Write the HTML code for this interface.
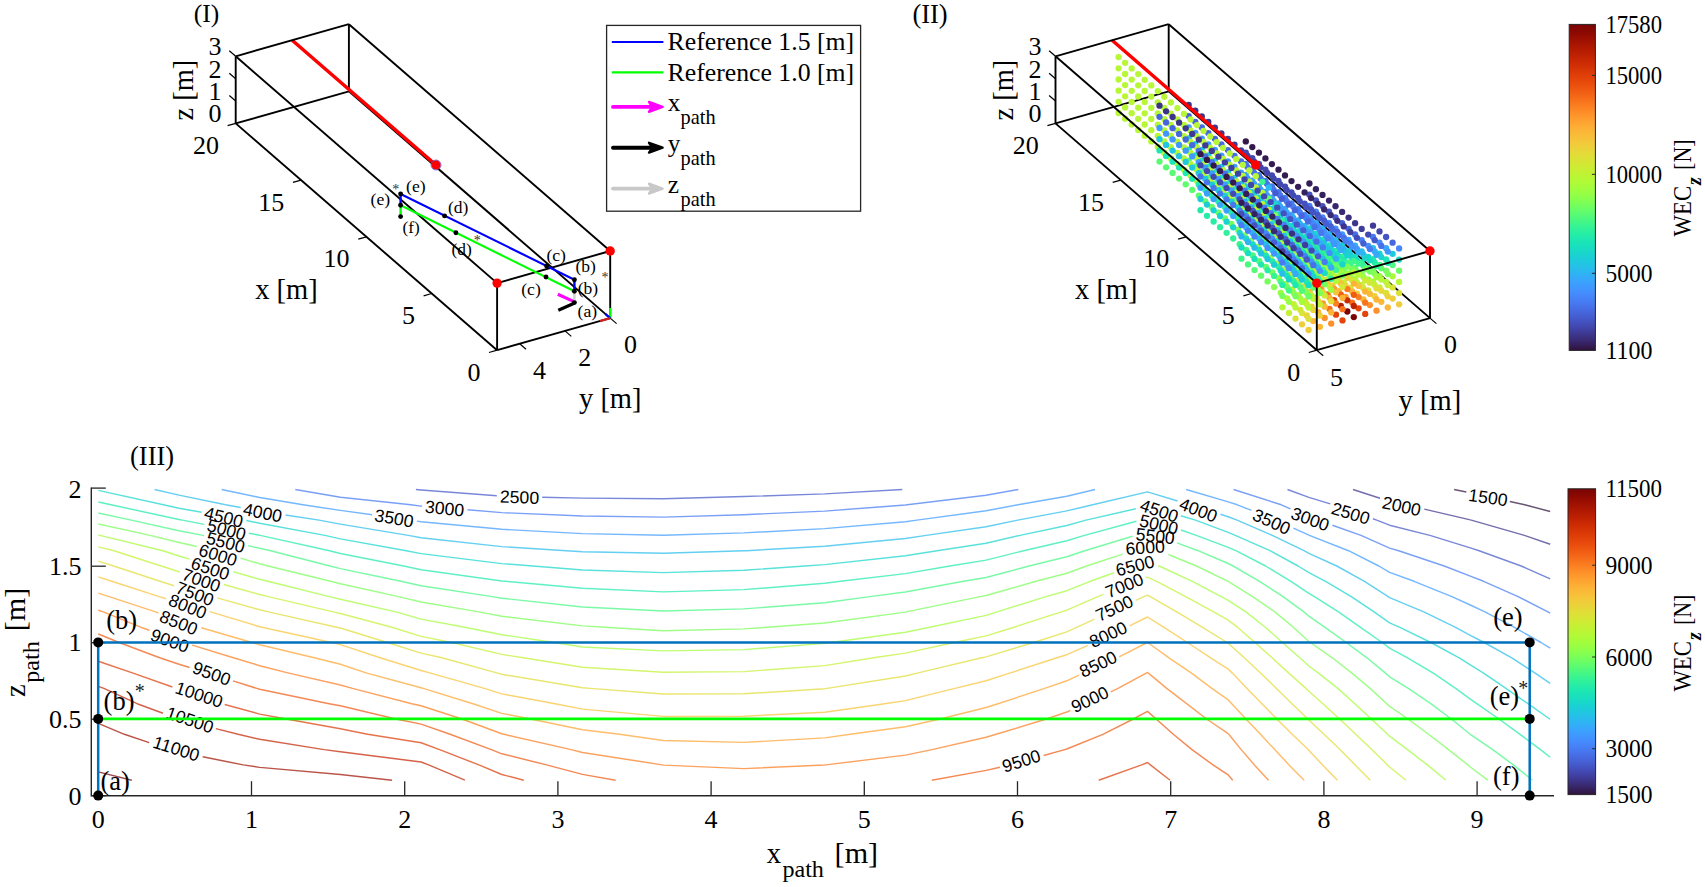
<!DOCTYPE html>
<html lang="en"><head><meta charset="utf-8"><title>Figure</title><style>html,body{margin:0;padding:0;background:#fff}svg{display:block}</style></head><body>
<svg width="1705" height="887" viewBox="0 0 1705 887">
<style>text{font-family:"Liberation Serif","Times New Roman",serif}text.a{font-family:"Liberation Sans",Arial,sans-serif}</style>
<rect width="1705" height="887" fill="#fff"/>
<g id="p1">
<line x1="348.9" y1="91.3" x2="610.2" y2="318.1" stroke="#000" stroke-width="1.9"/>
<line x1="348.9" y1="91.3" x2="235.7" y2="123.4" stroke="#000" stroke-width="1.9"/>
<line x1="348.9" y1="91.3" x2="348.9" y2="24.2" stroke="#000" stroke-width="1.9"/>
<line x1="292.2" y1="40.2" x2="436.0" y2="165.0" stroke="#ff0000" stroke-width="3.5"/>
<line x1="497.1" y1="283.1" x2="235.7" y2="56.3" stroke="#000" stroke-width="1.9"/>
<line x1="497.1" y1="283.1" x2="610.2" y2="251.0" stroke="#000" stroke-width="1.9"/>
<line x1="497.1" y1="283.1" x2="497.1" y2="350.2" stroke="#000" stroke-width="1.9"/>
<line x1="235.7" y1="56.3" x2="348.9" y2="24.2" stroke="#000" stroke-width="1.9"/>
<line x1="348.9" y1="24.2" x2="610.2" y2="251.0" stroke="#000" stroke-width="1.9"/>
<line x1="235.7" y1="56.3" x2="235.7" y2="123.4" stroke="#000" stroke-width="1.9"/>
<line x1="235.7" y1="123.4" x2="497.1" y2="350.2" stroke="#000" stroke-width="1.9"/>
<line x1="497.1" y1="350.2" x2="610.2" y2="318.1" stroke="#000" stroke-width="1.9"/>
<line x1="610.2" y1="318.1" x2="610.2" y2="251.0" stroke="#000" stroke-width="1.9"/>
<line x1="497.1" y1="350.2" x2="489.0" y2="352.5" stroke="#000" stroke-width="1.2"/>
<line x1="431.7" y1="293.5" x2="423.6" y2="295.8" stroke="#000" stroke-width="1.2"/>
<line x1="366.4" y1="236.8" x2="358.3" y2="239.1" stroke="#000" stroke-width="1.2"/>
<line x1="301.0" y1="180.1" x2="292.9" y2="182.4" stroke="#000" stroke-width="1.2"/>
<line x1="235.7" y1="123.4" x2="227.6" y2="125.7" stroke="#000" stroke-width="1.2"/>
<line x1="610.2" y1="318.1" x2="616.6" y2="323.6" stroke="#000" stroke-width="1.2"/>
<line x1="565.0" y1="330.9" x2="571.3" y2="336.4" stroke="#000" stroke-width="1.2"/>
<line x1="519.7" y1="343.8" x2="526.0" y2="349.3" stroke="#000" stroke-width="1.2"/>
<line x1="235.7" y1="101.0" x2="229.3" y2="95.5" stroke="#000" stroke-width="1.2"/>
<line x1="235.7" y1="78.7" x2="229.3" y2="73.2" stroke="#000" stroke-width="1.2"/>
<line x1="235.7" y1="56.3" x2="229.3" y2="50.8" stroke="#000" stroke-width="1.2"/>
<circle cx="436.0" cy="165.0" r="4.7" fill="#ff0000"/>
<circle cx="497.1" cy="283.1" r="4.7" fill="#ff0000"/>
<circle cx="610.2" cy="251.0" r="4.7" fill="#ff0000"/>
<circle cx="436.0" cy="165.0" r="5" fill="none" stroke="#5a3fd0" stroke-width="0.7"/>
<line x1="400.6" y1="194.0" x2="574.4" y2="279.7" stroke="#0000ff" stroke-width="2.1"/>
<line x1="574.4" y1="279.7" x2="574.4" y2="291.2" stroke="#0000ff" stroke-width="2.4"/>
<line x1="400.6" y1="194.0" x2="400.6" y2="205.3" stroke="#0000ff" stroke-width="2.4"/>
<line x1="400.6" y1="205.3" x2="574.4" y2="291.2" stroke="#00ff00" stroke-width="2.1"/>
<line x1="400.6" y1="205.3" x2="400.6" y2="216.6" stroke="#00ff00" stroke-width="2.4"/>
<line x1="574.4" y1="291.2" x2="574.4" y2="302.6" stroke="#cfcfcf" stroke-width="2.4"/>
<line x1="557.8" y1="294.3" x2="573.4" y2="301.4" stroke="#ff00ff" stroke-width="3.2"/>
<line x1="558.3" y1="310.3" x2="574.2" y2="303.2" stroke="#000" stroke-width="3.2"/>
<line x1="610.2" y1="318.1" x2="610.2" y2="307.9" stroke="#00ff00" stroke-width="2.2"/>
<line x1="610.2" y1="318.1" x2="605.2" y2="313.9" stroke="#0000ff" stroke-width="2.2"/>
<line x1="610.2" y1="318.1" x2="600.0" y2="321.1" stroke="#d02020" stroke-width="2.2"/>
<circle cx="400.6" cy="194.0" r="2.45" fill="#000"/>
<circle cx="400.6" cy="205.3" r="2.45" fill="#000"/>
<circle cx="400.6" cy="216.6" r="2.45" fill="#000"/>
<circle cx="444.6" cy="215.9" r="2.45" fill="#000"/>
<circle cx="455.9" cy="232.7" r="2.45" fill="#000"/>
<circle cx="546.6" cy="266.0" r="2.45" fill="#000"/>
<circle cx="546.0" cy="277.0" r="2.45" fill="#000"/>
<circle cx="574.4" cy="279.7" r="2.45" fill="#000"/>
<circle cx="574.4" cy="291.2" r="2.45" fill="#000"/>
<circle cx="574.4" cy="302.6" r="2.45" fill="#000"/>
<text x="406.0" y="192.4" font-size="17.5" textLength="19.6" lengthAdjust="spacingAndGlyphs">(e)</text>
<text x="370.6" y="205.4" font-size="17.5" textLength="19.6" lengthAdjust="spacingAndGlyphs">(e)</text>
<text x="448.0" y="213.4" font-size="17.5" textLength="20.4" lengthAdjust="spacingAndGlyphs">(d)</text>
<text x="402.6" y="232.6" font-size="17.5" textLength="17.2" lengthAdjust="spacingAndGlyphs">(f)</text>
<text x="451.4" y="255.2" font-size="17.5" textLength="20.4" lengthAdjust="spacingAndGlyphs">(d)</text>
<text x="546.4" y="260.8" font-size="17.5" textLength="19.6" lengthAdjust="spacingAndGlyphs">(c)</text>
<text x="521.2" y="294.6" font-size="17.5" textLength="19.6" lengthAdjust="spacingAndGlyphs">(c)</text>
<text x="575.4" y="272.2" font-size="17.5" textLength="20.4" lengthAdjust="spacingAndGlyphs">(b)</text>
<text x="577.8" y="293.6" font-size="17.5" textLength="20.4" lengthAdjust="spacingAndGlyphs">(b)</text>
<text x="577.6" y="317.2" font-size="17.5" textLength="19.6" lengthAdjust="spacingAndGlyphs">(a)</text>
<text x="395.7" y="194.4" font-size="14.0" text-anchor="middle" fill="#333">*</text>
<text x="477.3" y="245.4" font-size="14.0" text-anchor="middle" fill="#333">*</text>
<text x="604.9" y="282.4" font-size="14.0" text-anchor="middle" fill="#333">*</text>
<text x="414.9" y="324.0" font-size="26.0" text-anchor="end">5</text>
<text x="349.6" y="267.3" font-size="26.0" text-anchor="end">10</text>
<text x="284.2" y="210.6" font-size="26.0" text-anchor="end">15</text>
<text x="218.9" y="153.9" font-size="26.0" text-anchor="end">20</text>
<text x="480.4" y="381.2" font-size="26.0" text-anchor="end">0</text>
<text x="630.6" y="352.5" font-size="26.0" text-anchor="middle">0</text>
<text x="584.8" y="366.3" font-size="26.0" text-anchor="middle">2</text>
<text x="539.5" y="379.2" font-size="26.0" text-anchor="middle">4</text>
<text x="215.1" y="122.4" font-size="26.0" text-anchor="middle">0</text>
<text x="215.1" y="100.0" font-size="26.0" text-anchor="middle">1</text>
<text x="215.1" y="77.7" font-size="26.0" text-anchor="middle">2</text>
<text x="215.1" y="55.3" font-size="26.0" text-anchor="middle">3</text>
<text x="255.2" y="299.3" font-size="28.5">x [m]</text>
<text x="197.9" y="0.0" font-size="1.0"></text>
<text x="579.0" y="407.9" font-size="28.5">y [m]</text>
<text x="193.4" y="120.6" font-size="28.5" transform="rotate(-90.0 193.4 120.6)">z [m]</text>
<text x="193.8" y="22.4" font-size="25.5" textLength="25.5" lengthAdjust="spacingAndGlyphs">(I)</text>
</g>
<g id="leg">
<rect x="606.6" y="25.4" width="254" height="185.8" fill="#fff" stroke="#262626" stroke-width="1.3"/>
<line x1="611.8" y1="42.0" x2="663.4" y2="42.0" stroke="#0000ff" stroke-width="2.2"/>
<line x1="611.8" y1="72.3" x2="663.4" y2="72.3" stroke="#00ff00" stroke-width="2.2"/>
<line x1="613" y1="106.9" x2="654" y2="106.9" stroke="#ff00ff" stroke-width="3.9" stroke-linecap="round"/>
<polygon points="662.6,106.9 649.0,102.0 652.5,106.9 649.0,111.8" fill="#ff00ff" stroke="#ff00ff" stroke-width="2.4" stroke-linejoin="round"/>
<line x1="613" y1="147.7" x2="654" y2="147.7" stroke="#000" stroke-width="3.9" stroke-linecap="round"/>
<polygon points="662.6,147.7 649.0,142.8 652.5,147.7 649.0,152.6" fill="#000" stroke="#000" stroke-width="2.4" stroke-linejoin="round"/>
<line x1="613" y1="188.6" x2="654" y2="188.6" stroke="#c8c8c8" stroke-width="3.9" stroke-linecap="round"/>
<polygon points="662.6,188.6 649.0,183.7 652.5,188.6 649.0,193.5" fill="#c8c8c8" stroke="#c8c8c8" stroke-width="2.4" stroke-linejoin="round"/>
<text x="667.6" y="50.3" font-size="25.4" textLength="186.5" lengthAdjust="spacingAndGlyphs">Reference 1.5 [m]</text>
<text x="667.6" y="80.6" font-size="25.4" textLength="186.5" lengthAdjust="spacingAndGlyphs">Reference 1.0 [m]</text>
<text x="667.8" y="110.7" font-size="25.4">x</text>
<text x="680.6" y="123.7" font-size="20.3" textLength="35.0" lengthAdjust="spacingAndGlyphs">path</text>
<text x="667.8" y="152.2" font-size="25.4">y</text>
<text x="680.6" y="165.2" font-size="20.3" textLength="35.0" lengthAdjust="spacingAndGlyphs">path</text>
<text x="667.8" y="193.0" font-size="25.4">z</text>
<text x="680.6" y="206.0" font-size="20.3" textLength="35.0" lengthAdjust="spacingAndGlyphs">path</text>
</g>
<g id="p2">
<line x1="1168.7" y1="91.3" x2="1430.0" y2="318.1" stroke="#000" stroke-width="1.9"/>
<line x1="1168.7" y1="91.3" x2="1055.5" y2="123.4" stroke="#000" stroke-width="1.9"/>
<line x1="1168.7" y1="91.3" x2="1168.7" y2="24.2" stroke="#000" stroke-width="1.9"/>
<g>
<circle cx="1118.6" cy="113.0" r="3.15" fill="#b7f735"/>
<circle cx="1118.6" cy="101.8" r="3.15" fill="#b7f735"/>
<circle cx="1125.1" cy="118.7" r="3.15" fill="#b7f735"/>
<circle cx="1118.6" cy="90.7" r="3.15" fill="#b7f735"/>
<circle cx="1125.1" cy="107.5" r="3.15" fill="#b7f735"/>
<circle cx="1131.7" cy="124.4" r="3.15" fill="#b7f735"/>
<circle cx="1118.6" cy="79.5" r="3.15" fill="#b7f735"/>
<circle cx="1125.1" cy="96.3" r="3.15" fill="#b7f735"/>
<circle cx="1131.7" cy="113.2" r="3.15" fill="#b7f735"/>
<circle cx="1118.6" cy="68.3" r="3.15" fill="#b7f735"/>
<circle cx="1138.2" cy="130.0" r="3.15" fill="#b7f735"/>
<circle cx="1125.1" cy="85.1" r="3.15" fill="#b7f735"/>
<circle cx="1131.7" cy="102.0" r="3.15" fill="#b7f735"/>
<circle cx="1118.6" cy="57.1" r="3.15" fill="#b7f735"/>
<circle cx="1138.2" cy="118.8" r="3.15" fill="#b7f735"/>
<circle cx="1125.1" cy="74.0" r="3.15" fill="#b7f735"/>
<circle cx="1144.7" cy="135.7" r="3.15" fill="#b7f735"/>
<circle cx="1131.7" cy="90.8" r="3.15" fill="#b7f735"/>
<circle cx="1138.2" cy="107.7" r="3.15" fill="#b7f735"/>
<circle cx="1125.1" cy="62.8" r="3.15" fill="#b7f735"/>
<circle cx="1144.7" cy="124.5" r="3.15" fill="#b7f735"/>
<circle cx="1131.7" cy="79.6" r="3.15" fill="#b7f735"/>
<circle cx="1151.3" cy="141.4" r="3.15" fill="#b7f735"/>
<circle cx="1138.2" cy="96.5" r="3.15" fill="#b7f735"/>
<circle cx="1144.7" cy="113.3" r="3.15" fill="#b7f735"/>
<circle cx="1131.7" cy="68.4" r="3.15" fill="#b7f735"/>
<circle cx="1151.3" cy="130.2" r="3.15" fill="#b7f735"/>
<circle cx="1138.2" cy="85.3" r="3.15" fill="#b7f735"/>
<circle cx="1157.8" cy="147.0" r="3.15" fill="#b7f735"/>
<circle cx="1144.7" cy="102.1" r="3.15" fill="#b7f735"/>
<circle cx="1151.3" cy="119.0" r="3.15" fill="#b7f735"/>
<circle cx="1138.2" cy="74.1" r="3.15" fill="#b7f735"/>
<circle cx="1157.8" cy="135.9" r="3.15" fill="#b7f735"/>
<circle cx="1144.7" cy="91.0" r="3.15" fill="#b7f735"/>
<circle cx="1164.3" cy="152.7" r="3.15" fill="#b7f735"/>
<circle cx="1151.3" cy="107.8" r="3.15" fill="#b7f735"/>
<circle cx="1157.8" cy="124.7" r="3.15" fill="#b7f735"/>
<circle cx="1144.7" cy="79.8" r="3.15" fill="#b7f735"/>
<circle cx="1164.3" cy="141.5" r="3.15" fill="#b7f735"/>
<circle cx="1151.3" cy="96.6" r="3.15" fill="#b7f735"/>
<circle cx="1170.9" cy="158.4" r="3.15" fill="#b7f735"/>
<circle cx="1157.8" cy="113.5" r="3.15" fill="#b7f735"/>
<circle cx="1164.3" cy="130.3" r="3.15" fill="#b7f735"/>
<circle cx="1151.3" cy="85.4" r="3.15" fill="#b7f735"/>
<circle cx="1188.7" cy="160.8" r="3.15" fill="#59fb73"/>
<circle cx="1159.5" cy="161.6" r="3.15" fill="#59fb73"/>
<circle cx="1170.9" cy="147.2" r="3.15" fill="#b7f735"/>
<circle cx="1157.8" cy="102.3" r="3.15" fill="#b7f735"/>
<circle cx="1177.4" cy="164.1" r="3.15" fill="#b7f735"/>
<circle cx="1164.3" cy="119.2" r="3.15" fill="#b7f735"/>
<circle cx="1188.7" cy="149.7" r="3.15" fill="#1de7b2"/>
<circle cx="1159.5" cy="150.4" r="3.15" fill="#1de7b2"/>
<circle cx="1170.9" cy="136.0" r="3.15" fill="#b7f735"/>
<circle cx="1157.8" cy="91.1" r="3.15" fill="#b7f735"/>
<circle cx="1195.3" cy="166.5" r="3.15" fill="#59fb73"/>
<circle cx="1166.1" cy="167.3" r="3.15" fill="#59fb73"/>
<circle cx="1177.4" cy="152.9" r="3.15" fill="#b7f735"/>
<circle cx="1164.3" cy="108.0" r="3.15" fill="#b7f735"/>
<circle cx="1188.7" cy="138.5" r="3.15" fill="#22c5e2"/>
<circle cx="1159.5" cy="139.2" r="3.15" fill="#22c5e2"/>
<circle cx="1183.9" cy="169.7" r="3.15" fill="#b7f735"/>
<circle cx="1170.9" cy="124.8" r="3.15" fill="#b7f735"/>
<circle cx="1195.3" cy="155.3" r="3.15" fill="#1de7b2"/>
<circle cx="1166.1" cy="156.1" r="3.15" fill="#1de7b2"/>
<circle cx="1177.4" cy="141.7" r="3.15" fill="#b7f735"/>
<circle cx="1164.3" cy="96.8" r="3.15" fill="#b7f735"/>
<circle cx="1201.8" cy="172.2" r="3.15" fill="#5dfc6f"/>
<circle cx="1188.7" cy="127.3" r="3.15" fill="#4196ff"/>
<circle cx="1172.6" cy="172.9" r="3.15" fill="#59fb73"/>
<circle cx="1159.5" cy="128.0" r="3.15" fill="#4196ff"/>
<circle cx="1183.9" cy="158.5" r="3.15" fill="#b7f735"/>
<circle cx="1170.9" cy="113.6" r="3.15" fill="#b7f735"/>
<circle cx="1195.3" cy="144.1" r="3.15" fill="#22c5e2"/>
<circle cx="1166.1" cy="144.9" r="3.15" fill="#22c5e2"/>
<circle cx="1190.5" cy="175.4" r="3.15" fill="#b7f735"/>
<circle cx="1177.4" cy="130.5" r="3.15" fill="#b7f735"/>
<circle cx="1201.8" cy="161.0" r="3.15" fill="#1fe9af"/>
<circle cx="1188.7" cy="116.1" r="3.15" fill="#4666dd"/>
<circle cx="1172.6" cy="161.7" r="3.15" fill="#1de7b2"/>
<circle cx="1159.5" cy="116.8" r="3.15" fill="#4666dd"/>
<circle cx="1183.9" cy="147.4" r="3.15" fill="#b7f735"/>
<circle cx="1170.9" cy="102.5" r="3.15" fill="#b7f735"/>
<circle cx="1208.3" cy="177.9" r="3.15" fill="#5dfc6f"/>
<circle cx="1195.3" cy="133.0" r="3.15" fill="#4196ff"/>
<circle cx="1179.1" cy="178.6" r="3.15" fill="#5dfc6f"/>
<circle cx="1166.1" cy="133.7" r="3.15" fill="#4196ff"/>
<circle cx="1190.5" cy="164.2" r="3.15" fill="#b7f735"/>
<circle cx="1177.4" cy="119.3" r="3.15" fill="#b7f735"/>
<circle cx="1201.8" cy="149.8" r="3.15" fill="#22c5e2"/>
<circle cx="1188.7" cy="104.9" r="3.15" fill="#3c3286"/>
<circle cx="1172.6" cy="150.6" r="3.15" fill="#22c5e2"/>
<circle cx="1159.5" cy="105.7" r="3.15" fill="#3c3286"/>
<circle cx="1197.0" cy="181.1" r="3.15" fill="#b7f735"/>
<circle cx="1183.9" cy="136.2" r="3.15" fill="#b7f735"/>
<circle cx="1208.3" cy="166.7" r="3.15" fill="#1fe9af"/>
<circle cx="1195.3" cy="121.8" r="3.15" fill="#4666dd"/>
<circle cx="1179.1" cy="167.4" r="3.15" fill="#1fe9af"/>
<circle cx="1166.1" cy="122.5" r="3.15" fill="#4666dd"/>
<circle cx="1190.5" cy="153.0" r="3.15" fill="#b7f735"/>
<circle cx="1177.4" cy="108.1" r="3.15" fill="#b7f735"/>
<circle cx="1214.9" cy="183.5" r="3.15" fill="#61fc6c"/>
<circle cx="1201.8" cy="138.6" r="3.15" fill="#4196ff"/>
<circle cx="1185.7" cy="184.3" r="3.15" fill="#5dfc6f"/>
<circle cx="1172.6" cy="139.4" r="3.15" fill="#4196ff"/>
<circle cx="1197.0" cy="169.9" r="3.15" fill="#b7f735"/>
<circle cx="1183.9" cy="125.0" r="3.15" fill="#b7f735"/>
<circle cx="1208.3" cy="155.5" r="3.15" fill="#20c7df"/>
<circle cx="1195.3" cy="110.6" r="3.15" fill="#3d358b"/>
<circle cx="1179.1" cy="156.2" r="3.15" fill="#22c5e2"/>
<circle cx="1166.1" cy="111.3" r="3.15" fill="#3c3286"/>
<circle cx="1203.5" cy="186.7" r="3.15" fill="#b7f735"/>
<circle cx="1190.5" cy="141.8" r="3.15" fill="#b7f735"/>
<circle cx="1214.9" cy="172.3" r="3.15" fill="#1fe9af"/>
<circle cx="1201.8" cy="127.4" r="3.15" fill="#4669e0"/>
<circle cx="1185.7" cy="173.1" r="3.15" fill="#1fe9af"/>
<circle cx="1172.6" cy="128.2" r="3.15" fill="#4666dd"/>
<circle cx="1197.0" cy="158.7" r="3.15" fill="#b7f735"/>
<circle cx="1183.9" cy="113.8" r="3.15" fill="#b7f735"/>
<circle cx="1221.4" cy="189.2" r="3.15" fill="#61fc6c"/>
<circle cx="1208.3" cy="144.3" r="3.15" fill="#4099ff"/>
<circle cx="1192.2" cy="189.9" r="3.15" fill="#61fc6c"/>
<circle cx="1179.1" cy="145.0" r="3.15" fill="#4196ff"/>
<circle cx="1203.5" cy="175.5" r="3.15" fill="#b7f735"/>
<circle cx="1190.5" cy="130.7" r="3.15" fill="#b7f735"/>
<circle cx="1214.9" cy="161.2" r="3.15" fill="#20c7df"/>
<circle cx="1201.8" cy="116.3" r="3.15" fill="#3d358b"/>
<circle cx="1185.7" cy="161.9" r="3.15" fill="#20c7df"/>
<circle cx="1172.6" cy="117.0" r="3.15" fill="#3d358b"/>
<circle cx="1210.1" cy="192.4" r="3.15" fill="#b7f735"/>
<circle cx="1197.0" cy="147.5" r="3.15" fill="#b7f735"/>
<circle cx="1221.4" cy="178.0" r="3.15" fill="#20eaac"/>
<circle cx="1208.3" cy="133.1" r="3.15" fill="#4669e0"/>
<circle cx="1192.2" cy="178.8" r="3.15" fill="#1fe9af"/>
<circle cx="1179.1" cy="133.9" r="3.15" fill="#4669e0"/>
<circle cx="1203.5" cy="164.4" r="3.15" fill="#b7f735"/>
<circle cx="1190.5" cy="119.5" r="3.15" fill="#b7f735"/>
<circle cx="1227.9" cy="194.9" r="3.15" fill="#65fd69"/>
<circle cx="1214.9" cy="150.0" r="3.15" fill="#4099ff"/>
<circle cx="1198.8" cy="195.6" r="3.15" fill="#61fc6c"/>
<circle cx="1185.7" cy="150.7" r="3.15" fill="#4099ff"/>
<circle cx="1210.1" cy="181.2" r="3.15" fill="#b7f735"/>
<circle cx="1197.0" cy="136.3" r="3.15" fill="#b7f735"/>
<circle cx="1221.4" cy="166.8" r="3.15" fill="#20c7df"/>
<circle cx="1208.3" cy="121.9" r="3.15" fill="#3e3891"/>
<circle cx="1245.8" cy="197.3" r="3.15" fill="#22ebaa"/>
<circle cx="1192.2" cy="167.6" r="3.15" fill="#20c7df"/>
<circle cx="1179.1" cy="122.7" r="3.15" fill="#3d358b"/>
<circle cx="1216.6" cy="198.1" r="3.15" fill="#b7f735"/>
<circle cx="1203.5" cy="153.2" r="3.15" fill="#b7f735"/>
<circle cx="1227.9" cy="183.7" r="3.15" fill="#20eaac"/>
<circle cx="1214.9" cy="138.8" r="3.15" fill="#4669e0"/>
<circle cx="1198.8" cy="184.4" r="3.15" fill="#20eaac"/>
<circle cx="1185.7" cy="139.5" r="3.15" fill="#4669e0"/>
<circle cx="1210.1" cy="170.0" r="3.15" fill="#b7f735"/>
<circle cx="1197.0" cy="125.1" r="3.15" fill="#b7f735"/>
<circle cx="1234.5" cy="200.5" r="3.15" fill="#69fd66"/>
<circle cx="1221.4" cy="155.6" r="3.15" fill="#4099ff"/>
<circle cx="1245.8" cy="186.1" r="3.15" fill="#1ecbda"/>
<circle cx="1205.3" cy="201.3" r="3.15" fill="#65fd69"/>
<circle cx="1192.2" cy="156.4" r="3.15" fill="#4099ff"/>
<circle cx="1216.6" cy="186.9" r="3.15" fill="#b7f735"/>
<circle cx="1203.5" cy="142.0" r="3.15" fill="#b7f735"/>
<circle cx="1227.9" cy="172.5" r="3.15" fill="#1fc9dd"/>
<circle cx="1214.9" cy="127.6" r="3.15" fill="#3e3891"/>
<circle cx="1252.3" cy="203.0" r="3.15" fill="#25eca7"/>
<circle cx="1198.8" cy="173.2" r="3.15" fill="#20c7df"/>
<circle cx="1185.7" cy="128.3" r="3.15" fill="#3e3891"/>
<circle cx="1223.1" cy="203.7" r="3.15" fill="#b7f735"/>
<circle cx="1210.1" cy="158.8" r="3.15" fill="#b7f735"/>
<circle cx="1234.5" cy="189.3" r="3.15" fill="#22ebaa"/>
<circle cx="1221.4" cy="144.5" r="3.15" fill="#466be3"/>
<circle cx="1245.8" cy="175.0" r="3.15" fill="#3ba0fd"/>
<circle cx="1205.3" cy="190.1" r="3.15" fill="#20eaac"/>
<circle cx="1192.2" cy="145.2" r="3.15" fill="#4669e0"/>
<circle cx="1216.6" cy="175.7" r="3.15" fill="#b7f735"/>
<circle cx="1203.5" cy="130.8" r="3.15" fill="#b7f735"/>
<circle cx="1241.0" cy="206.2" r="3.15" fill="#6dfe62"/>
<circle cx="1227.9" cy="161.3" r="3.15" fill="#3e9bfe"/>
<circle cx="1252.3" cy="191.8" r="3.15" fill="#1ccdd8"/>
<circle cx="1211.8" cy="207.0" r="3.15" fill="#69fd66"/>
<circle cx="1198.8" cy="162.1" r="3.15" fill="#4099ff"/>
<circle cx="1223.1" cy="192.6" r="3.15" fill="#b7f735"/>
<circle cx="1210.1" cy="147.7" r="3.15" fill="#b7f735"/>
<circle cx="1234.5" cy="178.2" r="3.15" fill="#1fc9dd"/>
<circle cx="1221.4" cy="133.3" r="3.15" fill="#3e3891"/>
<circle cx="1258.9" cy="208.7" r="3.15" fill="#27eea4"/>
<circle cx="1245.8" cy="163.8" r="3.15" fill="#4773eb"/>
<circle cx="1205.3" cy="178.9" r="3.15" fill="#1fc9dd"/>
<circle cx="1192.2" cy="134.0" r="3.15" fill="#3e3891"/>
<circle cx="1229.7" cy="209.4" r="3.15" fill="#b7f735"/>
<circle cx="1216.6" cy="164.5" r="3.15" fill="#b7f735"/>
<circle cx="1241.0" cy="195.0" r="3.15" fill="#25eca7"/>
<circle cx="1227.9" cy="150.1" r="3.15" fill="#466be3"/>
<circle cx="1200.5" cy="210.2" r="3.15" fill="#22ebaa"/>
<circle cx="1252.3" cy="180.6" r="3.15" fill="#3ba0fd"/>
<circle cx="1211.8" cy="195.8" r="3.15" fill="#22ebaa"/>
<circle cx="1198.8" cy="150.9" r="3.15" fill="#466be3"/>
<circle cx="1223.1" cy="181.4" r="3.15" fill="#b7f735"/>
<circle cx="1210.1" cy="136.5" r="3.15" fill="#b7f735"/>
<circle cx="1247.5" cy="211.9" r="3.15" fill="#71fe5f"/>
<circle cx="1234.5" cy="167.0" r="3.15" fill="#3e9bfe"/>
<circle cx="1258.9" cy="197.5" r="3.15" fill="#1bd0d5"/>
<circle cx="1245.8" cy="152.6" r="3.15" fill="#4249b1"/>
<circle cx="1218.4" cy="212.6" r="3.15" fill="#6dfe62"/>
<circle cx="1205.3" cy="167.7" r="3.15" fill="#3e9bfe"/>
<circle cx="1229.7" cy="198.2" r="3.15" fill="#b7f735"/>
<circle cx="1216.6" cy="153.3" r="3.15" fill="#b7f735"/>
<circle cx="1241.0" cy="183.8" r="3.15" fill="#1ecbda"/>
<circle cx="1227.9" cy="138.9" r="3.15" fill="#3f3b97"/>
<circle cx="1200.5" cy="199.0" r="3.15" fill="#1ecbda"/>
<circle cx="1265.4" cy="214.3" r="3.15" fill="#2aefa1"/>
<circle cx="1252.3" cy="169.4" r="3.15" fill="#4776ee"/>
<circle cx="1211.8" cy="184.6" r="3.15" fill="#1fc9dd"/>
<circle cx="1198.8" cy="139.7" r="3.15" fill="#3e3891"/>
<circle cx="1236.2" cy="215.1" r="3.15" fill="#b7f735"/>
<circle cx="1223.1" cy="170.2" r="3.15" fill="#b7f735"/>
<circle cx="1247.5" cy="200.7" r="3.15" fill="#27eea4"/>
<circle cx="1234.5" cy="155.8" r="3.15" fill="#476ee6"/>
<circle cx="1207.0" cy="215.8" r="3.15" fill="#25eca7"/>
<circle cx="1258.9" cy="186.3" r="3.15" fill="#3aa3fc"/>
<circle cx="1245.8" cy="141.4" r="3.15" fill="#33184a"/>
<circle cx="1218.4" cy="201.4" r="3.15" fill="#25eca7"/>
<circle cx="1205.3" cy="156.5" r="3.15" fill="#466be3"/>
<circle cx="1229.7" cy="187.0" r="3.15" fill="#b7f735"/>
<circle cx="1216.6" cy="142.1" r="3.15" fill="#b7f735"/>
<circle cx="1254.1" cy="217.5" r="3.15" fill="#75fe5c"/>
<circle cx="1241.0" cy="172.6" r="3.15" fill="#3e9bfe"/>
<circle cx="1200.5" cy="187.8" r="3.15" fill="#3ba0fd"/>
<circle cx="1265.4" cy="203.1" r="3.15" fill="#1bd0d5"/>
<circle cx="1252.3" cy="158.2" r="3.15" fill="#4249b1"/>
<circle cx="1224.9" cy="218.3" r="3.15" fill="#71fe5f"/>
<circle cx="1211.8" cy="173.4" r="3.15" fill="#3e9bfe"/>
<circle cx="1236.2" cy="203.9" r="3.15" fill="#b7f735"/>
<circle cx="1223.1" cy="159.0" r="3.15" fill="#b7f735"/>
<circle cx="1247.5" cy="189.5" r="3.15" fill="#1ecbda"/>
<circle cx="1234.5" cy="144.6" r="3.15" fill="#3f3b97"/>
<circle cx="1207.0" cy="204.6" r="3.15" fill="#1ccdd8"/>
<circle cx="1271.9" cy="220.0" r="3.15" fill="#2ff19b"/>
<circle cx="1258.9" cy="175.1" r="3.15" fill="#4776ee"/>
<circle cx="1218.4" cy="190.2" r="3.15" fill="#1ecbda"/>
<circle cx="1205.3" cy="145.4" r="3.15" fill="#3f3b97"/>
<circle cx="1242.8" cy="220.8" r="3.15" fill="#b7f735"/>
<circle cx="1229.7" cy="175.9" r="3.15" fill="#b7f735"/>
<circle cx="1254.1" cy="206.4" r="3.15" fill="#27eea4"/>
<circle cx="1241.0" cy="161.5" r="3.15" fill="#476ee6"/>
<circle cx="1213.6" cy="221.5" r="3.15" fill="#27eea4"/>
<circle cx="1200.5" cy="176.6" r="3.15" fill="#4773eb"/>
<circle cx="1265.4" cy="192.0" r="3.15" fill="#3aa3fc"/>
<circle cx="1252.3" cy="147.1" r="3.15" fill="#33184a"/>
<circle cx="1224.9" cy="207.1" r="3.15" fill="#27eea4"/>
<circle cx="1211.8" cy="162.2" r="3.15" fill="#476ee6"/>
<circle cx="1236.2" cy="192.7" r="3.15" fill="#b7f735"/>
<circle cx="1223.1" cy="147.8" r="3.15" fill="#b7f735"/>
<circle cx="1260.6" cy="223.2" r="3.15" fill="#79fe59"/>
<circle cx="1247.5" cy="178.3" r="3.15" fill="#3d9efe"/>
<circle cx="1207.0" cy="193.5" r="3.15" fill="#3ba0fd"/>
<circle cx="1271.9" cy="208.8" r="3.15" fill="#1ad4d0"/>
<circle cx="1258.9" cy="163.9" r="3.15" fill="#4249b1"/>
<circle cx="1231.4" cy="224.0" r="3.15" fill="#75fe5c"/>
<circle cx="1218.4" cy="179.1" r="3.15" fill="#3e9bfe"/>
<circle cx="1242.8" cy="209.6" r="3.15" fill="#b7f735"/>
<circle cx="1229.7" cy="164.7" r="3.15" fill="#b7f735"/>
<circle cx="1254.1" cy="195.2" r="3.15" fill="#1ccdd8"/>
<circle cx="1241.0" cy="150.3" r="3.15" fill="#3f3e9c"/>
<circle cx="1213.6" cy="210.3" r="3.15" fill="#1bd0d5"/>
<circle cx="1200.5" cy="165.4" r="3.15" fill="#4249b1"/>
<circle cx="1278.5" cy="225.7" r="3.15" fill="#32f298"/>
<circle cx="1265.4" cy="180.8" r="3.15" fill="#4776ee"/>
<circle cx="1224.9" cy="195.9" r="3.15" fill="#1ecbda"/>
<circle cx="1211.8" cy="151.0" r="3.15" fill="#3f3b97"/>
<circle cx="1249.3" cy="226.4" r="3.15" fill="#b7f735"/>
<circle cx="1236.2" cy="181.5" r="3.15" fill="#b7f735"/>
<circle cx="1260.6" cy="212.0" r="3.15" fill="#2cf09e"/>
<circle cx="1247.5" cy="167.1" r="3.15" fill="#4771e9"/>
<circle cx="1220.1" cy="227.2" r="3.15" fill="#2aefa1"/>
<circle cx="1207.0" cy="182.3" r="3.15" fill="#4776ee"/>
<circle cx="1271.9" cy="197.6" r="3.15" fill="#38a5fb"/>
<circle cx="1258.9" cy="152.7" r="3.15" fill="#33184a"/>
<circle cx="1231.4" cy="212.8" r="3.15" fill="#27eea4"/>
<circle cx="1218.4" cy="167.9" r="3.15" fill="#476ee6"/>
<circle cx="1242.8" cy="198.4" r="3.15" fill="#b7f735"/>
<circle cx="1229.7" cy="153.5" r="3.15" fill="#b7f735"/>
<circle cx="1267.1" cy="228.9" r="3.15" fill="#80ff53"/>
<circle cx="1254.1" cy="184.0" r="3.15" fill="#3d9efe"/>
<circle cx="1213.6" cy="199.1" r="3.15" fill="#3aa3fc"/>
<circle cx="1200.5" cy="154.2" r="3.15" fill="#33184a"/>
<circle cx="1278.5" cy="214.5" r="3.15" fill="#19d5cd"/>
<circle cx="1265.4" cy="169.6" r="3.15" fill="#4249b1"/>
<circle cx="1238.0" cy="229.6" r="3.15" fill="#79fe59"/>
<circle cx="1224.9" cy="184.7" r="3.15" fill="#3d9efe"/>
<circle cx="1249.3" cy="215.2" r="3.15" fill="#b7f735"/>
<circle cx="1236.2" cy="170.3" r="3.15" fill="#b7f735"/>
<circle cx="1260.6" cy="200.8" r="3.15" fill="#1bd0d5"/>
<circle cx="1247.5" cy="155.9" r="3.15" fill="#4040a2"/>
<circle cx="1220.1" cy="216.0" r="3.15" fill="#1bd0d5"/>
<circle cx="1207.0" cy="171.1" r="3.15" fill="#4249b1"/>
<circle cx="1285.0" cy="231.3" r="3.15" fill="#38f491"/>
<circle cx="1271.9" cy="186.4" r="3.15" fill="#4778f0"/>
<circle cx="1231.4" cy="201.6" r="3.15" fill="#1ccdd8"/>
<circle cx="1218.4" cy="156.7" r="3.15" fill="#3f3e9c"/>
<circle cx="1255.8" cy="232.1" r="3.15" fill="#b7f735"/>
<circle cx="1242.8" cy="187.2" r="3.15" fill="#b7f735"/>
<circle cx="1267.1" cy="217.7" r="3.15" fill="#2ff19b"/>
<circle cx="1254.1" cy="172.8" r="3.15" fill="#4771e9"/>
<circle cx="1226.6" cy="232.8" r="3.15" fill="#2ff19b"/>
<circle cx="1213.6" cy="187.9" r="3.15" fill="#4776ee"/>
<circle cx="1278.5" cy="203.3" r="3.15" fill="#37a8fa"/>
<circle cx="1265.4" cy="158.4" r="3.15" fill="#341b51"/>
<circle cx="1238.0" cy="218.4" r="3.15" fill="#2cf09e"/>
<circle cx="1224.9" cy="173.6" r="3.15" fill="#4771e9"/>
<circle cx="1249.3" cy="204.1" r="3.15" fill="#b7f735"/>
<circle cx="1236.2" cy="159.2" r="3.15" fill="#b7f735"/>
<circle cx="1273.7" cy="234.6" r="3.15" fill="#88ff4e"/>
<circle cx="1260.6" cy="189.7" r="3.15" fill="#3ba0fd"/>
<circle cx="1220.1" cy="204.8" r="3.15" fill="#3aa3fc"/>
<circle cx="1207.0" cy="159.9" r="3.15" fill="#33184a"/>
<circle cx="1285.0" cy="220.2" r="3.15" fill="#18d7ca"/>
<circle cx="1271.9" cy="175.3" r="3.15" fill="#4249b1"/>
<circle cx="1244.5" cy="235.3" r="3.15" fill="#80ff53"/>
<circle cx="1231.4" cy="190.4" r="3.15" fill="#3d9efe"/>
<circle cx="1255.8" cy="220.9" r="3.15" fill="#b7f735"/>
<circle cx="1242.8" cy="176.0" r="3.15" fill="#b7f735"/>
<circle cx="1267.1" cy="206.5" r="3.15" fill="#1ad2d2"/>
<circle cx="1254.1" cy="161.6" r="3.15" fill="#4040a2"/>
<circle cx="1226.6" cy="221.7" r="3.15" fill="#1ad4d0"/>
<circle cx="1213.6" cy="176.8" r="3.15" fill="#4249b1"/>
<circle cx="1291.5" cy="237.0" r="3.15" fill="#43f787"/>
<circle cx="1278.5" cy="192.1" r="3.15" fill="#4778f0"/>
<circle cx="1238.0" cy="207.3" r="3.15" fill="#1bd0d5"/>
<circle cx="1224.9" cy="162.4" r="3.15" fill="#4040a2"/>
<circle cx="1262.4" cy="237.8" r="3.15" fill="#b7f735"/>
<circle cx="1249.3" cy="192.9" r="3.15" fill="#b7f735"/>
<circle cx="1273.7" cy="223.4" r="3.15" fill="#35f394"/>
<circle cx="1260.6" cy="178.5" r="3.15" fill="#4773eb"/>
<circle cx="1233.2" cy="238.5" r="3.15" fill="#32f298"/>
<circle cx="1220.1" cy="193.6" r="3.15" fill="#4776ee"/>
<circle cx="1285.0" cy="209.0" r="3.15" fill="#35abf8"/>
<circle cx="1271.9" cy="164.1" r="3.15" fill="#341b51"/>
<circle cx="1244.5" cy="224.1" r="3.15" fill="#2ff19b"/>
<circle cx="1231.4" cy="179.2" r="3.15" fill="#4771e9"/>
<circle cx="1309.4" cy="239.5" r="3.15" fill="#3ff68a"/>
<circle cx="1255.8" cy="209.7" r="3.15" fill="#b7f735"/>
<circle cx="1242.8" cy="164.8" r="3.15" fill="#b7f735"/>
<circle cx="1280.2" cy="240.2" r="3.15" fill="#92ff47"/>
<circle cx="1267.1" cy="195.3" r="3.15" fill="#3aa3fc"/>
<circle cx="1226.6" cy="210.5" r="3.15" fill="#38a5fb"/>
<circle cx="1213.6" cy="165.6" r="3.15" fill="#33184a"/>
<circle cx="1291.5" cy="225.8" r="3.15" fill="#18dbc5"/>
<circle cx="1278.5" cy="180.9" r="3.15" fill="#424bb5"/>
<circle cx="1251.0" cy="241.0" r="3.15" fill="#88ff4e"/>
<circle cx="1238.0" cy="196.1" r="3.15" fill="#3ba0fd"/>
<circle cx="1262.4" cy="226.6" r="3.15" fill="#b7f735"/>
<circle cx="1249.3" cy="181.7" r="3.15" fill="#b7f735"/>
<circle cx="1273.7" cy="212.2" r="3.15" fill="#1ad4d0"/>
<circle cx="1260.6" cy="167.3" r="3.15" fill="#4143a7"/>
<circle cx="1233.2" cy="227.3" r="3.15" fill="#19d5cd"/>
<circle cx="1220.1" cy="182.4" r="3.15" fill="#4249b1"/>
<circle cx="1298.1" cy="242.7" r="3.15" fill="#4af880"/>
<circle cx="1285.0" cy="197.8" r="3.15" fill="#477bf2"/>
<circle cx="1244.5" cy="212.9" r="3.15" fill="#1ad2d2"/>
<circle cx="1231.4" cy="168.0" r="3.15" fill="#4040a2"/>
<circle cx="1309.4" cy="228.3" r="3.15" fill="#18ddc2"/>
<circle cx="1268.9" cy="243.4" r="3.15" fill="#b7f735"/>
<circle cx="1255.8" cy="198.5" r="3.15" fill="#b7f735"/>
<circle cx="1280.2" cy="229.0" r="3.15" fill="#3cf58e"/>
<circle cx="1267.1" cy="184.1" r="3.15" fill="#4773eb"/>
<circle cx="1239.7" cy="244.2" r="3.15" fill="#38f491"/>
<circle cx="1226.6" cy="199.3" r="3.15" fill="#4778f0"/>
<circle cx="1291.5" cy="214.6" r="3.15" fill="#33adf7"/>
<circle cx="1278.5" cy="169.7" r="3.15" fill="#341b51"/>
<circle cx="1251.0" cy="229.8" r="3.15" fill="#35f394"/>
<circle cx="1238.0" cy="184.9" r="3.15" fill="#4773eb"/>
<circle cx="1315.9" cy="245.1" r="3.15" fill="#4af880"/>
<circle cx="1262.4" cy="215.4" r="3.15" fill="#b7f735"/>
<circle cx="1249.3" cy="170.5" r="3.15" fill="#b7f735"/>
<circle cx="1286.7" cy="245.9" r="3.15" fill="#99fe42"/>
<circle cx="1273.7" cy="201.0" r="3.15" fill="#3aa3fc"/>
<circle cx="1233.2" cy="216.1" r="3.15" fill="#37a8fa"/>
<circle cx="1220.1" cy="171.2" r="3.15" fill="#341b51"/>
<circle cx="1298.1" cy="231.5" r="3.15" fill="#18dec0"/>
<circle cx="1285.0" cy="186.6" r="3.15" fill="#424bb5"/>
<circle cx="1257.6" cy="246.6" r="3.15" fill="#92ff47"/>
<circle cx="1244.5" cy="201.7" r="3.15" fill="#3aa3fc"/>
<circle cx="1309.4" cy="217.1" r="3.15" fill="#31aff5"/>
<circle cx="1268.9" cy="232.2" r="3.15" fill="#b7f735"/>
<circle cx="1255.8" cy="187.4" r="3.15" fill="#b7f735"/>
<circle cx="1280.2" cy="217.9" r="3.15" fill="#19d5cd"/>
<circle cx="1267.1" cy="173.0" r="3.15" fill="#4143a7"/>
<circle cx="1239.7" cy="233.0" r="3.15" fill="#18d7ca"/>
<circle cx="1226.6" cy="188.1" r="3.15" fill="#4249b1"/>
<circle cx="1304.6" cy="248.4" r="3.15" fill="#55fa76"/>
<circle cx="1291.5" cy="203.5" r="3.15" fill="#477bf2"/>
<circle cx="1251.0" cy="218.6" r="3.15" fill="#1ad4d0"/>
<circle cx="1238.0" cy="173.7" r="3.15" fill="#4143a7"/>
<circle cx="1315.9" cy="234.0" r="3.15" fill="#18e0bd"/>
<circle cx="1275.4" cy="249.1" r="3.15" fill="#b7f735"/>
<circle cx="1262.4" cy="204.2" r="3.15" fill="#b7f735"/>
<circle cx="1286.7" cy="234.7" r="3.15" fill="#43f787"/>
<circle cx="1273.7" cy="189.8" r="3.15" fill="#4776ee"/>
<circle cx="1246.2" cy="249.9" r="3.15" fill="#43f787"/>
<circle cx="1233.2" cy="205.0" r="3.15" fill="#4778f0"/>
<circle cx="1298.1" cy="220.3" r="3.15" fill="#2fb2f4"/>
<circle cx="1285.0" cy="175.4" r="3.15" fill="#341b51"/>
<circle cx="1257.6" cy="235.5" r="3.15" fill="#3cf58e"/>
<circle cx="1244.5" cy="190.6" r="3.15" fill="#4773eb"/>
<circle cx="1322.5" cy="250.8" r="3.15" fill="#55fa76"/>
<circle cx="1309.4" cy="205.9" r="3.15" fill="#467df4"/>
<circle cx="1268.9" cy="221.1" r="3.15" fill="#b7f735"/>
<circle cx="1255.8" cy="176.2" r="3.15" fill="#b7f735"/>
<circle cx="1293.3" cy="251.6" r="3.15" fill="#a4fc3c"/>
<circle cx="1280.2" cy="206.7" r="3.15" fill="#38a5fb"/>
<circle cx="1239.7" cy="221.8" r="3.15" fill="#35abf8"/>
<circle cx="1226.6" cy="176.9" r="3.15" fill="#341b51"/>
<circle cx="1304.6" cy="237.2" r="3.15" fill="#19e3b9"/>
<circle cx="1291.5" cy="192.3" r="3.15" fill="#424bb5"/>
<circle cx="1264.1" cy="252.3" r="3.15" fill="#99fe42"/>
<circle cx="1251.0" cy="207.4" r="3.15" fill="#3aa3fc"/>
<circle cx="1315.9" cy="222.8" r="3.15" fill="#2eb4f2"/>
<circle cx="1275.4" cy="237.9" r="3.15" fill="#b7f735"/>
<circle cx="1262.4" cy="193.0" r="3.15" fill="#b7f735"/>
<circle cx="1286.7" cy="223.5" r="3.15" fill="#18d9c8"/>
<circle cx="1273.7" cy="178.6" r="3.15" fill="#4146ac"/>
<circle cx="1246.2" cy="238.7" r="3.15" fill="#18dbc5"/>
<circle cx="1233.2" cy="193.8" r="3.15" fill="#424bb5"/>
<circle cx="1311.1" cy="254.0" r="3.15" fill="#65fd69"/>
<circle cx="1298.1" cy="209.1" r="3.15" fill="#467df4"/>
<circle cx="1257.6" cy="224.3" r="3.15" fill="#19d5cd"/>
<circle cx="1244.5" cy="179.4" r="3.15" fill="#4143a7"/>
<circle cx="1322.5" cy="239.6" r="3.15" fill="#1ae4b6"/>
<circle cx="1309.4" cy="194.7" r="3.15" fill="#434eba"/>
<circle cx="1282.0" cy="254.8" r="3.15" fill="#b7f735"/>
<circle cx="1268.9" cy="209.9" r="3.15" fill="#b7f735"/>
<circle cx="1293.3" cy="240.4" r="3.15" fill="#4ef97d"/>
<circle cx="1280.2" cy="195.5" r="3.15" fill="#4776ee"/>
<circle cx="1252.8" cy="255.5" r="3.15" fill="#4af880"/>
<circle cx="1239.7" cy="210.6" r="3.15" fill="#477bf2"/>
<circle cx="1304.6" cy="226.0" r="3.15" fill="#2cb7f0"/>
<circle cx="1291.5" cy="181.1" r="3.15" fill="#351e58"/>
<circle cx="1264.1" cy="241.1" r="3.15" fill="#43f787"/>
<circle cx="1251.0" cy="196.2" r="3.15" fill="#4776ee"/>
<circle cx="1329.0" cy="256.5" r="3.15" fill="#65fd69"/>
<circle cx="1315.9" cy="211.6" r="3.15" fill="#4680f6"/>
<circle cx="1275.4" cy="226.7" r="3.15" fill="#b7f735"/>
<circle cx="1262.4" cy="181.8" r="3.15" fill="#38f491"/>
<circle cx="1299.8" cy="257.2" r="3.15" fill="#acfb38"/>
<circle cx="1286.7" cy="212.3" r="3.15" fill="#35abf8"/>
<circle cx="1246.2" cy="227.5" r="3.15" fill="#33adf7"/>
<circle cx="1233.2" cy="182.6" r="3.15" fill="#341b51"/>
<circle cx="1311.1" cy="242.8" r="3.15" fill="#1de7b2"/>
<circle cx="1298.1" cy="197.9" r="3.15" fill="#434eba"/>
<circle cx="1257.6" cy="213.1" r="3.15" fill="#38a5fb"/>
<circle cx="1270.6" cy="258.0" r="3.15" fill="#a4fc3c"/>
<circle cx="1322.5" cy="228.4" r="3.15" fill="#2ab9ee"/>
<circle cx="1309.4" cy="183.5" r="3.15" fill="#351e58"/>
<circle cx="1282.0" cy="243.6" r="3.15" fill="#b7f735"/>
<circle cx="1268.9" cy="198.7" r="3.15" fill="#65fd69"/>
<circle cx="1241.5" cy="258.7" r="3.15" fill="#3ff68a"/>
<circle cx="1293.3" cy="229.2" r="3.15" fill="#18ddc2"/>
<circle cx="1280.2" cy="184.3" r="3.15" fill="#4249b1"/>
<circle cx="1252.8" cy="244.3" r="3.15" fill="#18dec0"/>
<circle cx="1239.7" cy="199.4" r="3.15" fill="#424bb5"/>
<circle cx="1317.7" cy="259.7" r="3.15" fill="#75fe5c"/>
<circle cx="1304.6" cy="214.8" r="3.15" fill="#4682f8"/>
<circle cx="1264.1" cy="229.9" r="3.15" fill="#18d9c8"/>
<circle cx="1251.0" cy="185.0" r="3.15" fill="#4146ac"/>
<circle cx="1329.0" cy="245.3" r="3.15" fill="#1fe9af"/>
<circle cx="1315.9" cy="200.4" r="3.15" fill="#4451bf"/>
<circle cx="1275.4" cy="215.5" r="3.15" fill="#8bff4b"/>
<circle cx="1288.5" cy="260.4" r="3.15" fill="#b7f735"/>
<circle cx="1299.8" cy="246.0" r="3.15" fill="#59fb73"/>
<circle cx="1286.7" cy="201.2" r="3.15" fill="#4778f0"/>
<circle cx="1259.3" cy="261.2" r="3.15" fill="#55fa76"/>
<circle cx="1246.2" cy="216.3" r="3.15" fill="#477bf2"/>
<circle cx="1311.1" cy="231.7" r="3.15" fill="#28bceb"/>
<circle cx="1298.1" cy="186.8" r="3.15" fill="#351e58"/>
<circle cx="1257.6" cy="201.9" r="3.15" fill="#4776ee"/>
<circle cx="1270.6" cy="246.8" r="3.15" fill="#4ef97d"/>
<circle cx="1335.5" cy="262.2" r="3.15" fill="#75fe5c"/>
<circle cx="1322.5" cy="217.3" r="3.15" fill="#4685fa"/>
<circle cx="1282.0" cy="232.4" r="3.15" fill="#a4fc3c"/>
<circle cx="1268.9" cy="187.5" r="3.15" fill="#2cb7f0"/>
<circle cx="1241.5" cy="247.5" r="3.15" fill="#18ddc2"/>
<circle cx="1293.3" cy="218.0" r="3.15" fill="#33adf7"/>
<circle cx="1306.3" cy="262.9" r="3.15" fill="#b9f635"/>
<circle cx="1252.8" cy="233.2" r="3.15" fill="#2fb2f4"/>
<circle cx="1239.7" cy="188.3" r="3.15" fill="#341b51"/>
<circle cx="1317.7" cy="248.5" r="3.15" fill="#25eca7"/>
<circle cx="1304.6" cy="203.6" r="3.15" fill="#4451bf"/>
<circle cx="1264.1" cy="218.8" r="3.15" fill="#35abf8"/>
<circle cx="1277.2" cy="263.7" r="3.15" fill="#acfb38"/>
<circle cx="1329.0" cy="234.1" r="3.15" fill="#25c0e7"/>
<circle cx="1315.9" cy="189.2" r="3.15" fill="#36215f"/>
<circle cx="1275.4" cy="204.4" r="3.15" fill="#18dbc5"/>
<circle cx="1288.5" cy="249.3" r="3.15" fill="#b1f936"/>
<circle cx="1248.0" cy="264.4" r="3.15" fill="#4af880"/>
<circle cx="1299.8" cy="234.9" r="3.15" fill="#19e2bb"/>
<circle cx="1286.7" cy="190.0" r="3.15" fill="#4249b1"/>
<circle cx="1259.3" cy="250.0" r="3.15" fill="#19e3b9"/>
<circle cx="1246.2" cy="205.1" r="3.15" fill="#424bb5"/>
<circle cx="1324.2" cy="265.4" r="3.15" fill="#88ff4e"/>
<circle cx="1311.1" cy="220.5" r="3.15" fill="#4685fa"/>
<circle cx="1257.6" cy="190.7" r="3.15" fill="#4249b1"/>
<circle cx="1270.6" cy="235.6" r="3.15" fill="#18ddc2"/>
<circle cx="1335.5" cy="251.0" r="3.15" fill="#27eea4"/>
<circle cx="1322.5" cy="206.1" r="3.15" fill="#4451bf"/>
<circle cx="1282.0" cy="221.2" r="3.15" fill="#32f298"/>
<circle cx="1295.0" cy="266.1" r="3.15" fill="#b7f735"/>
<circle cx="1241.5" cy="236.4" r="3.15" fill="#31aff5"/>
<circle cx="1293.3" cy="206.8" r="3.15" fill="#477bf2"/>
<circle cx="1306.3" cy="251.7" r="3.15" fill="#69fd66"/>
<circle cx="1265.9" cy="266.9" r="3.15" fill="#65fd69"/>
<circle cx="1252.8" cy="222.0" r="3.15" fill="#467df4"/>
<circle cx="1317.7" cy="237.3" r="3.15" fill="#23c3e4"/>
<circle cx="1304.6" cy="192.4" r="3.15" fill="#36215f"/>
<circle cx="1264.1" cy="207.6" r="3.15" fill="#4778f0"/>
<circle cx="1277.2" cy="252.5" r="3.15" fill="#59fb73"/>
<circle cx="1342.1" cy="267.8" r="3.15" fill="#88ff4e"/>
<circle cx="1329.0" cy="222.9" r="3.15" fill="#458afc"/>
<circle cx="1275.4" cy="193.2" r="3.15" fill="#455ccf"/>
<circle cx="1288.5" cy="238.1" r="3.15" fill="#71fe5f"/>
<circle cx="1248.0" cy="253.2" r="3.15" fill="#18e0bd"/>
<circle cx="1299.8" cy="223.7" r="3.15" fill="#2fb2f4"/>
<circle cx="1312.9" cy="268.6" r="3.15" fill="#c6f034"/>
<circle cx="1259.3" cy="238.8" r="3.15" fill="#2cb7f0"/>
<circle cx="1246.2" cy="193.9" r="3.15" fill="#351e58"/>
<circle cx="1324.2" cy="254.2" r="3.15" fill="#2ff19b"/>
<circle cx="1311.1" cy="209.3" r="3.15" fill="#4451bf"/>
<circle cx="1283.7" cy="269.3" r="3.15" fill="#b9f635"/>
<circle cx="1270.6" cy="224.4" r="3.15" fill="#33adf7"/>
<circle cx="1335.5" cy="239.8" r="3.15" fill="#20c7df"/>
<circle cx="1322.5" cy="194.9" r="3.15" fill="#36215f"/>
<circle cx="1282.0" cy="210.0" r="3.15" fill="#4099ff"/>
<circle cx="1295.0" cy="254.9" r="3.15" fill="#a7fc3a"/>
<circle cx="1254.5" cy="270.1" r="3.15" fill="#55fa76"/>
<circle cx="1241.5" cy="225.2" r="3.15" fill="#467df4"/>
<circle cx="1293.3" cy="195.6" r="3.15" fill="#424bb5"/>
<circle cx="1306.3" cy="240.5" r="3.15" fill="#1ce6b4"/>
<circle cx="1265.9" cy="255.7" r="3.15" fill="#1de7b2"/>
<circle cx="1252.8" cy="210.8" r="3.15" fill="#434eba"/>
<circle cx="1330.7" cy="271.0" r="3.15" fill="#9cfe40"/>
<circle cx="1317.7" cy="226.1" r="3.15" fill="#458afc"/>
<circle cx="1264.1" cy="196.4" r="3.15" fill="#4249b1"/>
<circle cx="1277.2" cy="241.3" r="3.15" fill="#19e2bb"/>
<circle cx="1342.1" cy="256.6" r="3.15" fill="#35f394"/>
<circle cx="1329.0" cy="211.7" r="3.15" fill="#4454c3"/>
<circle cx="1301.6" cy="271.8" r="3.15" fill="#c8ef34"/>
<circle cx="1288.5" cy="226.9" r="3.15" fill="#1ad2d2"/>
<circle cx="1248.0" cy="242.0" r="3.15" fill="#2eb4f2"/>
<circle cx="1299.8" cy="212.5" r="3.15" fill="#467df4"/>
<circle cx="1312.9" cy="257.4" r="3.15" fill="#7dff56"/>
<circle cx="1272.4" cy="272.5" r="3.15" fill="#75fe5c"/>
<circle cx="1259.3" cy="227.6" r="3.15" fill="#4682f8"/>
<circle cx="1324.2" cy="243.0" r="3.15" fill="#1ecbda"/>
<circle cx="1311.1" cy="198.1" r="3.15" fill="#36215f"/>
<circle cx="1283.7" cy="258.1" r="3.15" fill="#69fd66"/>
<circle cx="1270.6" cy="213.2" r="3.15" fill="#477bf2"/>
<circle cx="1348.6" cy="273.5" r="3.15" fill="#99fe42"/>
<circle cx="1335.5" cy="228.6" r="3.15" fill="#448ffe"/>
<circle cx="1282.0" cy="198.8" r="3.15" fill="#455ed3"/>
<circle cx="1295.0" cy="243.7" r="3.15" fill="#43f787"/>
<circle cx="1254.5" cy="258.9" r="3.15" fill="#1ae4b6"/>
<circle cx="1241.5" cy="214.0" r="3.15" fill="#434eba"/>
<circle cx="1319.4" cy="274.2" r="3.15" fill="#d4e735"/>
<circle cx="1306.3" cy="229.3" r="3.15" fill="#2cb7f0"/>
<circle cx="1265.9" cy="244.5" r="3.15" fill="#28bceb"/>
<circle cx="1252.8" cy="199.6" r="3.15" fill="#351e58"/>
<circle cx="1330.7" cy="259.8" r="3.15" fill="#43f787"/>
<circle cx="1317.7" cy="215.0" r="3.15" fill="#4456c7"/>
<circle cx="1290.2" cy="275.0" r="3.15" fill="#c6f034"/>
<circle cx="1277.2" cy="230.1" r="3.15" fill="#2fb2f4"/>
<circle cx="1342.1" cy="245.5" r="3.15" fill="#1bd0d5"/>
<circle cx="1329.0" cy="200.6" r="3.15" fill="#372466"/>
<circle cx="1301.6" cy="260.6" r="3.15" fill="#a4fc3c"/>
<circle cx="1288.5" cy="215.7" r="3.15" fill="#458cfd"/>
<circle cx="1261.1" cy="275.7" r="3.15" fill="#65fd69"/>
<circle cx="1248.0" cy="230.8" r="3.15" fill="#4680f6"/>
<circle cx="1299.8" cy="201.3" r="3.15" fill="#434eba"/>
<circle cx="1312.9" cy="246.2" r="3.15" fill="#22ebaa"/>
<circle cx="1272.4" cy="261.3" r="3.15" fill="#25eca7"/>
<circle cx="1259.3" cy="216.5" r="3.15" fill="#4451bf"/>
<circle cx="1337.3" cy="276.7" r="3.15" fill="#acfb38"/>
<circle cx="1324.2" cy="231.8" r="3.15" fill="#4391fe"/>
<circle cx="1283.7" cy="247.0" r="3.15" fill="#1ce6b4"/>
<circle cx="1270.6" cy="202.1" r="3.15" fill="#424bb5"/>
<circle cx="1348.6" cy="262.3" r="3.15" fill="#4af880"/>
<circle cx="1335.5" cy="217.4" r="3.15" fill="#4559cb"/>
<circle cx="1308.1" cy="277.5" r="3.15" fill="#e3db38"/>
<circle cx="1295.0" cy="232.6" r="3.15" fill="#23c3e4"/>
<circle cx="1254.5" cy="247.7" r="3.15" fill="#2ab9ee"/>
<circle cx="1241.5" cy="202.8" r="3.15" fill="#351e58"/>
<circle cx="1319.4" cy="263.1" r="3.15" fill="#8fff49"/>
<circle cx="1306.3" cy="218.2" r="3.15" fill="#4680f6"/>
<circle cx="1278.9" cy="278.2" r="3.15" fill="#88ff4e"/>
<circle cx="1265.9" cy="233.3" r="3.15" fill="#4685fa"/>
<circle cx="1330.7" cy="248.7" r="3.15" fill="#1ad4d0"/>
<circle cx="1317.7" cy="203.8" r="3.15" fill="#372466"/>
<circle cx="1290.2" cy="263.8" r="3.15" fill="#7dff56"/>
<circle cx="1277.2" cy="218.9" r="3.15" fill="#467df4"/>
<circle cx="1355.1" cy="279.2" r="3.15" fill="#acfb38"/>
<circle cx="1342.1" cy="234.3" r="3.15" fill="#4196ff"/>
<circle cx="1301.6" cy="249.4" r="3.15" fill="#35f394"/>
<circle cx="1288.5" cy="204.5" r="3.15" fill="#4661d6"/>
<circle cx="1261.1" cy="264.6" r="3.15" fill="#1fe9af"/>
<circle cx="1248.0" cy="219.7" r="3.15" fill="#4451bf"/>
<circle cx="1326.0" cy="279.9" r="3.15" fill="#e3db38"/>
<circle cx="1312.9" cy="235.0" r="3.15" fill="#27bee9"/>
<circle cx="1272.4" cy="250.2" r="3.15" fill="#23c3e4"/>
<circle cx="1259.3" cy="205.3" r="3.15" fill="#36215f"/>
<circle cx="1337.3" cy="265.5" r="3.15" fill="#59fb73"/>
<circle cx="1324.2" cy="220.6" r="3.15" fill="#4559cb"/>
<circle cx="1296.8" cy="280.7" r="3.15" fill="#d4e735"/>
<circle cx="1283.7" cy="235.8" r="3.15" fill="#2cb7f0"/>
<circle cx="1348.6" cy="251.1" r="3.15" fill="#18dbc5"/>
<circle cx="1335.5" cy="206.2" r="3.15" fill="#38276d"/>
<circle cx="1308.1" cy="266.3" r="3.15" fill="#b1f936"/>
<circle cx="1295.0" cy="221.4" r="3.15" fill="#448ffe"/>
<circle cx="1373.0" cy="281.6" r="3.15" fill="#b1f936"/>
<circle cx="1267.6" cy="281.4" r="3.15" fill="#75fe5c"/>
<circle cx="1254.5" cy="236.5" r="3.15" fill="#4685fa"/>
<circle cx="1319.4" cy="251.9" r="3.15" fill="#2cf09e"/>
<circle cx="1306.3" cy="207.0" r="3.15" fill="#4451bf"/>
<circle cx="1278.9" cy="267.0" r="3.15" fill="#2ff19b"/>
<circle cx="1265.9" cy="222.1" r="3.15" fill="#4451bf"/>
<circle cx="1343.8" cy="282.4" r="3.15" fill="#c1f334"/>
<circle cx="1330.7" cy="237.5" r="3.15" fill="#4099ff"/>
<circle cx="1290.2" cy="252.6" r="3.15" fill="#22ebaa"/>
<circle cx="1277.2" cy="207.7" r="3.15" fill="#434eba"/>
<circle cx="1355.1" cy="268.0" r="3.15" fill="#65fd69"/>
<circle cx="1342.1" cy="223.1" r="3.15" fill="#455ed3"/>
<circle cx="1314.6" cy="283.1" r="3.15" fill="#fcb136"/>
<circle cx="1301.6" cy="238.2" r="3.15" fill="#1ecbda"/>
<circle cx="1261.1" cy="253.4" r="3.15" fill="#25c0e7"/>
<circle cx="1248.0" cy="208.5" r="3.15" fill="#36215f"/>
<circle cx="1326.0" cy="268.7" r="3.15" fill="#a4fc3c"/>
<circle cx="1312.9" cy="223.8" r="3.15" fill="#4685fa"/>
<circle cx="1285.5" cy="283.9" r="3.15" fill="#9cfe40"/>
<circle cx="1272.4" cy="239.0" r="3.15" fill="#458afc"/>
<circle cx="1337.3" cy="254.3" r="3.15" fill="#18dec0"/>
<circle cx="1324.2" cy="209.4" r="3.15" fill="#38276d"/>
<circle cx="1296.8" cy="269.5" r="3.15" fill="#8fff49"/>
<circle cx="1283.7" cy="224.6" r="3.15" fill="#4680f6"/>
<circle cx="1361.7" cy="284.8" r="3.15" fill="#c1f334"/>
<circle cx="1348.6" cy="239.9" r="3.15" fill="#3ba0fd"/>
<circle cx="1308.1" cy="255.1" r="3.15" fill="#4af880"/>
<circle cx="1295.0" cy="210.2" r="3.15" fill="#4664da"/>
<circle cx="1373.0" cy="270.4" r="3.15" fill="#75fe5c"/>
<circle cx="1267.6" cy="270.2" r="3.15" fill="#27eea4"/>
<circle cx="1254.5" cy="225.3" r="3.15" fill="#4451bf"/>
<circle cx="1332.5" cy="285.6" r="3.15" fill="#f2c93a"/>
<circle cx="1319.4" cy="240.7" r="3.15" fill="#22c5e2"/>
<circle cx="1278.9" cy="255.8" r="3.15" fill="#1ecbda"/>
<circle cx="1265.9" cy="210.9" r="3.15" fill="#36215f"/>
<circle cx="1343.8" cy="271.2" r="3.15" fill="#79fe59"/>
<circle cx="1330.7" cy="226.3" r="3.15" fill="#455ed3"/>
<circle cx="1303.3" cy="286.3" r="3.15" fill="#e3db38"/>
<circle cx="1290.2" cy="241.4" r="3.15" fill="#27bee9"/>
<circle cx="1355.1" cy="256.8" r="3.15" fill="#1ae4b6"/>
<circle cx="1342.1" cy="211.9" r="3.15" fill="#392a73"/>
<circle cx="1314.6" cy="271.9" r="3.15" fill="#c8ef34"/>
<circle cx="1301.6" cy="227.0" r="3.15" fill="#4294ff"/>
<circle cx="1379.5" cy="287.3" r="3.15" fill="#c6f034"/>
<circle cx="1274.1" cy="287.1" r="3.15" fill="#88ff4e"/>
<circle cx="1261.1" cy="242.2" r="3.15" fill="#458afc"/>
<circle cx="1326.0" cy="257.5" r="3.15" fill="#3ff68a"/>
<circle cx="1312.9" cy="212.6" r="3.15" fill="#4454c3"/>
<circle cx="1285.5" cy="272.7" r="3.15" fill="#43f787"/>
<circle cx="1272.4" cy="227.8" r="3.15" fill="#4456c7"/>
<circle cx="1337.3" cy="243.1" r="3.15" fill="#38a5fb"/>
<circle cx="1350.3" cy="288.0" r="3.15" fill="#d7e535"/>
<circle cx="1296.8" cy="258.3" r="3.15" fill="#2cf09e"/>
<circle cx="1283.7" cy="213.4" r="3.15" fill="#4451bf"/>
<circle cx="1361.7" cy="273.6" r="3.15" fill="#84ff51"/>
<circle cx="1348.6" cy="228.8" r="3.15" fill="#4666dd"/>
<circle cx="1321.2" cy="288.8" r="3.15" fill="#fe9029"/>
<circle cx="1308.1" cy="243.9" r="3.15" fill="#1ad4d0"/>
<circle cx="1373.0" cy="259.2" r="3.15" fill="#25eca7"/>
<circle cx="1267.6" cy="259.0" r="3.15" fill="#20c7df"/>
<circle cx="1254.5" cy="214.1" r="3.15" fill="#36215f"/>
<circle cx="1332.5" cy="274.4" r="3.15" fill="#b9f635"/>
<circle cx="1319.4" cy="229.5" r="3.15" fill="#458cfd"/>
<circle cx="1292.0" cy="289.5" r="3.15" fill="#acfb38"/>
<circle cx="1278.9" cy="244.6" r="3.15" fill="#4391fe"/>
<circle cx="1343.8" cy="260.0" r="3.15" fill="#20eaac"/>
<circle cx="1330.7" cy="215.1" r="3.15" fill="#392a73"/>
<circle cx="1303.3" cy="275.1" r="3.15" fill="#a4fc3c"/>
<circle cx="1290.2" cy="230.2" r="3.15" fill="#4685fa"/>
<circle cx="1355.1" cy="245.6" r="3.15" fill="#31aff5"/>
<circle cx="1368.2" cy="290.5" r="3.15" fill="#d7e535"/>
<circle cx="1314.6" cy="260.8" r="3.15" fill="#65fd69"/>
<circle cx="1301.6" cy="215.9" r="3.15" fill="#4666dd"/>
<circle cx="1379.5" cy="276.1" r="3.15" fill="#96fe44"/>
<circle cx="1274.1" cy="275.9" r="3.15" fill="#35f394"/>
<circle cx="1261.1" cy="231.0" r="3.15" fill="#4454c3"/>
<circle cx="1339.0" cy="291.2" r="3.15" fill="#fbb637"/>
<circle cx="1326.0" cy="246.4" r="3.15" fill="#1bd0d5"/>
<circle cx="1285.5" cy="261.5" r="3.15" fill="#1ad4d0"/>
<circle cx="1272.4" cy="216.6" r="3.15" fill="#372466"/>
<circle cx="1337.3" cy="232.0" r="3.15" fill="#4666dd"/>
<circle cx="1350.3" cy="276.9" r="3.15" fill="#9cfe40"/>
<circle cx="1309.8" cy="292.0" r="3.15" fill="#f2c93a"/>
<circle cx="1296.8" cy="247.1" r="3.15" fill="#22c5e2"/>
<circle cx="1361.7" cy="262.5" r="3.15" fill="#2cf09e"/>
<circle cx="1348.6" cy="217.6" r="3.15" fill="#3b2f80"/>
<circle cx="1321.2" cy="277.6" r="3.15" fill="#e1dd37"/>
<circle cx="1308.1" cy="232.7" r="3.15" fill="#3e9bfe"/>
<circle cx="1386.1" cy="293.0" r="3.15" fill="#dbe236"/>
<circle cx="1373.0" cy="248.1" r="3.15" fill="#27bee9"/>
<circle cx="1280.7" cy="292.8" r="3.15" fill="#99fe42"/>
<circle cx="1267.6" cy="247.9" r="3.15" fill="#448ffe"/>
<circle cx="1332.5" cy="263.2" r="3.15" fill="#5dfc6f"/>
<circle cx="1319.4" cy="218.3" r="3.15" fill="#4559cb"/>
<circle cx="1292.0" cy="278.4" r="3.15" fill="#59fb73"/>
<circle cx="1278.9" cy="233.5" r="3.15" fill="#4559cb"/>
<circle cx="1343.8" cy="248.8" r="3.15" fill="#2eb4f2"/>
<circle cx="1356.9" cy="293.7" r="3.15" fill="#ecd13a"/>
<circle cx="1303.3" cy="264.0" r="3.15" fill="#3ff68a"/>
<circle cx="1290.2" cy="219.1" r="3.15" fill="#4454c3"/>
<circle cx="1355.1" cy="234.4" r="3.15" fill="#476ee6"/>
<circle cx="1368.2" cy="279.3" r="3.15" fill="#a4fc3c"/>
<circle cx="1327.7" cy="294.5" r="3.15" fill="#f56918"/>
<circle cx="1314.6" cy="249.6" r="3.15" fill="#18dec0"/>
<circle cx="1379.5" cy="264.9" r="3.15" fill="#43f787"/>
<circle cx="1274.1" cy="264.7" r="3.15" fill="#1bd0d5"/>
<circle cx="1261.1" cy="219.8" r="3.15" fill="#372466"/>
<circle cx="1339.0" cy="280.1" r="3.15" fill="#d2e935"/>
<circle cx="1326.0" cy="235.2" r="3.15" fill="#4294ff"/>
<circle cx="1298.5" cy="295.2" r="3.15" fill="#c1f334"/>
<circle cx="1285.5" cy="250.3" r="3.15" fill="#4099ff"/>
<circle cx="1337.3" cy="220.8" r="3.15" fill="#3b2f80"/>
<circle cx="1350.3" cy="265.7" r="3.15" fill="#38f491"/>
<circle cx="1309.8" cy="280.8" r="3.15" fill="#b9f635"/>
<circle cx="1296.8" cy="235.9" r="3.15" fill="#458cfd"/>
<circle cx="1361.7" cy="251.3" r="3.15" fill="#25c0e7"/>
<circle cx="1374.7" cy="296.2" r="3.15" fill="#ebd339"/>
<circle cx="1321.2" cy="266.4" r="3.15" fill="#8bff4b"/>
<circle cx="1308.1" cy="221.5" r="3.15" fill="#466be3"/>
<circle cx="1386.1" cy="281.8" r="3.15" fill="#b7f735"/>
<circle cx="1373.0" cy="236.9" r="3.15" fill="#477bf2"/>
<circle cx="1280.7" cy="281.6" r="3.15" fill="#4af880"/>
<circle cx="1267.6" cy="236.7" r="3.15" fill="#4559cb"/>
<circle cx="1345.6" cy="296.9" r="3.15" fill="#fe962b"/>
<circle cx="1332.5" cy="252.0" r="3.15" fill="#18dbc5"/>
<circle cx="1292.0" cy="267.2" r="3.15" fill="#18dec0"/>
<circle cx="1278.9" cy="222.3" r="3.15" fill="#38276d"/>
<circle cx="1343.8" cy="237.6" r="3.15" fill="#4771e9"/>
<circle cx="1356.9" cy="282.5" r="3.15" fill="#bcf534"/>
<circle cx="1316.4" cy="297.7" r="3.15" fill="#fbb637"/>
<circle cx="1303.3" cy="252.8" r="3.15" fill="#1bd0d5"/>
<circle cx="1355.1" cy="223.2" r="3.15" fill="#3d358b"/>
<circle cx="1368.2" cy="268.1" r="3.15" fill="#4ef97d"/>
<circle cx="1327.7" cy="283.3" r="3.15" fill="#f6c33a"/>
<circle cx="1314.6" cy="238.4" r="3.15" fill="#3aa3fc"/>
<circle cx="1392.6" cy="298.6" r="3.15" fill="#efcd3a"/>
<circle cx="1379.5" cy="253.7" r="3.15" fill="#1ad2d2"/>
<circle cx="1287.2" cy="298.4" r="3.15" fill="#acfb38"/>
<circle cx="1274.1" cy="253.5" r="3.15" fill="#4196ff"/>
<circle cx="1339.0" cy="268.9" r="3.15" fill="#80ff53"/>
<circle cx="1326.0" cy="224.0" r="3.15" fill="#455ed3"/>
<circle cx="1298.5" cy="284.0" r="3.15" fill="#79fe59"/>
<circle cx="1285.5" cy="239.1" r="3.15" fill="#455ed3"/>
<circle cx="1363.4" cy="299.4" r="3.15" fill="#fbb637"/>
<circle cx="1350.3" cy="254.5" r="3.15" fill="#20c7df"/>
<circle cx="1309.8" cy="269.6" r="3.15" fill="#5dfc6f"/>
<circle cx="1296.8" cy="224.7" r="3.15" fill="#4559cb"/>
<circle cx="1361.7" cy="240.1" r="3.15" fill="#467df4"/>
<circle cx="1374.7" cy="285.0" r="3.15" fill="#c6f034"/>
<circle cx="1334.2" cy="300.1" r="3.15" fill="#e14109"/>
<circle cx="1321.2" cy="255.2" r="3.15" fill="#1fe9af"/>
<circle cx="1386.1" cy="270.6" r="3.15" fill="#75fe5c"/>
<circle cx="1373.0" cy="225.7" r="3.15" fill="#3f3b97"/>
<circle cx="1280.7" cy="270.4" r="3.15" fill="#18dbc5"/>
<circle cx="1267.6" cy="225.5" r="3.15" fill="#38276d"/>
<circle cx="1345.6" cy="285.7" r="3.15" fill="#ebd339"/>
<circle cx="1332.5" cy="240.8" r="3.15" fill="#3d9efe"/>
<circle cx="1305.1" cy="300.9" r="3.15" fill="#d7e535"/>
<circle cx="1292.0" cy="256.0" r="3.15" fill="#38a5fb"/>
<circle cx="1343.8" cy="226.4" r="3.15" fill="#3d358b"/>
<circle cx="1356.9" cy="271.3" r="3.15" fill="#65fd69"/>
<circle cx="1316.4" cy="286.5" r="3.15" fill="#d2e935"/>
<circle cx="1303.3" cy="241.6" r="3.15" fill="#4294ff"/>
<circle cx="1381.3" cy="301.8" r="3.15" fill="#fbb838"/>
<circle cx="1368.2" cy="256.9" r="3.15" fill="#19d5cd"/>
<circle cx="1327.7" cy="272.1" r="3.15" fill="#affa37"/>
<circle cx="1314.6" cy="227.2" r="3.15" fill="#4771e9"/>
<circle cx="1392.6" cy="287.4" r="3.15" fill="#d9e436"/>
<circle cx="1379.5" cy="242.6" r="3.15" fill="#458cfd"/>
<circle cx="1287.2" cy="287.2" r="3.15" fill="#65fd69"/>
<circle cx="1274.1" cy="242.3" r="3.15" fill="#455ed3"/>
<circle cx="1352.1" cy="302.6" r="3.15" fill="#f76f1a"/>
<circle cx="1339.0" cy="257.7" r="3.15" fill="#1de7b2"/>
<circle cx="1298.5" cy="272.8" r="3.15" fill="#20eaac"/>
<circle cx="1285.5" cy="227.9" r="3.15" fill="#392a73"/>
<circle cx="1363.4" cy="288.2" r="3.15" fill="#dde037"/>
<circle cx="1350.3" cy="243.3" r="3.15" fill="#4680f6"/>
<circle cx="1322.9" cy="303.3" r="3.15" fill="#fe962b"/>
<circle cx="1309.8" cy="258.4" r="3.15" fill="#18dbc5"/>
<circle cx="1361.7" cy="228.9" r="3.15" fill="#3f3e9c"/>
<circle cx="1374.7" cy="273.8" r="3.15" fill="#84ff51"/>
<circle cx="1334.2" cy="288.9" r="3.15" fill="#fe9b2d"/>
<circle cx="1321.2" cy="244.1" r="3.15" fill="#31aff5"/>
<circle cx="1386.1" cy="259.4" r="3.15" fill="#1de7b2"/>
<circle cx="1399.1" cy="304.3" r="3.15" fill="#efcd3a"/>
<circle cx="1293.7" cy="304.1" r="3.15" fill="#c1f334"/>
<circle cx="1280.7" cy="259.2" r="3.15" fill="#3ba0fd"/>
<circle cx="1345.6" cy="274.6" r="3.15" fill="#a9fb39"/>
<circle cx="1332.5" cy="229.7" r="3.15" fill="#4666dd"/>
<circle cx="1305.1" cy="289.7" r="3.15" fill="#9cfe40"/>
<circle cx="1292.0" cy="244.8" r="3.15" fill="#4666dd"/>
<circle cx="1369.9" cy="305.1" r="3.15" fill="#fe9029"/>
<circle cx="1356.9" cy="260.2" r="3.15" fill="#18ddc2"/>
<circle cx="1316.4" cy="275.3" r="3.15" fill="#80ff53"/>
<circle cx="1303.3" cy="230.4" r="3.15" fill="#455ed3"/>
<circle cx="1381.3" cy="290.7" r="3.15" fill="#e7d739"/>
<circle cx="1368.2" cy="245.8" r="3.15" fill="#448ffe"/>
<circle cx="1340.8" cy="305.8" r="3.15" fill="#b91e02"/>
<circle cx="1327.7" cy="260.9" r="3.15" fill="#38f491"/>
<circle cx="1392.6" cy="276.3" r="3.15" fill="#a9fb39"/>
<circle cx="1379.5" cy="231.4" r="3.15" fill="#4146ac"/>
<circle cx="1287.2" cy="276.1" r="3.15" fill="#1ae4b6"/>
<circle cx="1274.1" cy="231.2" r="3.15" fill="#392a73"/>
<circle cx="1352.1" cy="291.4" r="3.15" fill="#fcb336"/>
<circle cx="1339.0" cy="246.5" r="3.15" fill="#33adf7"/>
<circle cx="1311.6" cy="306.6" r="3.15" fill="#ecd13a"/>
<circle cx="1298.5" cy="261.7" r="3.15" fill="#2eb4f2"/>
<circle cx="1363.4" cy="277.0" r="3.15" fill="#9cfe40"/>
<circle cx="1350.3" cy="232.1" r="3.15" fill="#3f3e9c"/>
<circle cx="1322.9" cy="292.2" r="3.15" fill="#ebd339"/>
<circle cx="1309.8" cy="247.3" r="3.15" fill="#3d9efe"/>
<circle cx="1387.8" cy="307.5" r="3.15" fill="#fbb838"/>
<circle cx="1374.7" cy="262.6" r="3.15" fill="#22ebaa"/>
<circle cx="1282.4" cy="307.3" r="3.15" fill="#b1f936"/>
<circle cx="1334.2" cy="277.8" r="3.15" fill="#d4e735"/>
<circle cx="1321.2" cy="232.9" r="3.15" fill="#4778f0"/>
<circle cx="1386.1" cy="248.2" r="3.15" fill="#37a8fa"/>
<circle cx="1399.1" cy="293.1" r="3.15" fill="#dde037"/>
<circle cx="1293.7" cy="292.9" r="3.15" fill="#84ff51"/>
<circle cx="1280.7" cy="248.0" r="3.15" fill="#4666dd"/>
<circle cx="1358.6" cy="308.3" r="3.15" fill="#e4450a"/>
<circle cx="1345.6" cy="263.4" r="3.15" fill="#3cf58e"/>
<circle cx="1305.1" cy="278.5" r="3.15" fill="#38f491"/>
<circle cx="1292.0" cy="233.6" r="3.15" fill="#3b2f80"/>
<circle cx="1369.9" cy="293.9" r="3.15" fill="#f9bc39"/>
<circle cx="1356.9" cy="249.0" r="3.15" fill="#4294ff"/>
<circle cx="1329.5" cy="309.0" r="3.15" fill="#f76f1a"/>
<circle cx="1316.4" cy="264.1" r="3.15" fill="#1de7b2"/>
<circle cx="1381.3" cy="279.5" r="3.15" fill="#b7f735"/>
<circle cx="1368.2" cy="234.6" r="3.15" fill="#4249b1"/>
<circle cx="1340.8" cy="294.6" r="3.15" fill="#f26014"/>
<circle cx="1327.7" cy="249.7" r="3.15" fill="#23c3e4"/>
<circle cx="1392.6" cy="265.1" r="3.15" fill="#4ef97d"/>
<circle cx="1300.3" cy="309.8" r="3.15" fill="#d7e535"/>
<circle cx="1287.2" cy="264.9" r="3.15" fill="#31aff5"/>
<circle cx="1352.1" cy="280.2" r="3.15" fill="#d0ea34"/>
<circle cx="1339.0" cy="235.3" r="3.15" fill="#476ee6"/>
<circle cx="1311.6" cy="295.4" r="3.15" fill="#bcf534"/>
<circle cx="1298.5" cy="250.5" r="3.15" fill="#4771e9"/>
<circle cx="1376.5" cy="310.7" r="3.15" fill="#fe9029"/>
<circle cx="1363.4" cy="265.8" r="3.15" fill="#2ff19b"/>
<circle cx="1322.9" cy="281.0" r="3.15" fill="#a9fb39"/>
<circle cx="1309.8" cy="236.1" r="3.15" fill="#4666dd"/>
<circle cx="1387.8" cy="296.3" r="3.15" fill="#ecd13a"/>
<circle cx="1374.7" cy="251.4" r="3.15" fill="#33adf7"/>
<circle cx="1282.4" cy="296.1" r="3.15" fill="#75fe5c"/>
<circle cx="1347.3" cy="311.5" r="3.15" fill="#7a0403"/>
<circle cx="1334.2" cy="266.6" r="3.15" fill="#6dfe62"/>
<circle cx="1386.1" cy="237.0" r="3.15" fill="#4456c7"/>
<circle cx="1399.1" cy="281.9" r="3.15" fill="#b4f836"/>
<circle cx="1293.7" cy="281.7" r="3.15" fill="#2cf09e"/>
<circle cx="1280.7" cy="236.8" r="3.15" fill="#3b2f80"/>
<circle cx="1358.6" cy="297.1" r="3.15" fill="#fb7e21"/>
<circle cx="1345.6" cy="252.2" r="3.15" fill="#23c3e4"/>
<circle cx="1318.1" cy="312.2" r="3.15" fill="#fbb637"/>
<circle cx="1305.1" cy="267.3" r="3.15" fill="#20c7df"/>
<circle cx="1369.9" cy="282.7" r="3.15" fill="#d0ea34"/>
<circle cx="1356.9" cy="237.8" r="3.15" fill="#424bb5"/>
<circle cx="1329.5" cy="297.8" r="3.15" fill="#fcb336"/>
<circle cx="1316.4" cy="252.9" r="3.15" fill="#33adf7"/>
<circle cx="1381.3" cy="268.3" r="3.15" fill="#5dfc6f"/>
<circle cx="1289.0" cy="313.0" r="3.15" fill="#c6f034"/>
<circle cx="1340.8" cy="283.4" r="3.15" fill="#f7c13a"/>
<circle cx="1327.7" cy="238.5" r="3.15" fill="#4685fa"/>
<circle cx="1392.6" cy="253.9" r="3.15" fill="#1ecbda"/>
<circle cx="1300.3" cy="298.6" r="3.15" fill="#a4fc3c"/>
<circle cx="1287.2" cy="253.7" r="3.15" fill="#476ee6"/>
<circle cx="1365.2" cy="313.9" r="3.15" fill="#e4450a"/>
<circle cx="1352.1" cy="269.0" r="3.15" fill="#75fe5c"/>
<circle cx="1311.6" cy="284.2" r="3.15" fill="#65fd69"/>
<circle cx="1298.5" cy="239.3" r="3.15" fill="#3d358b"/>
<circle cx="1376.5" cy="299.5" r="3.15" fill="#fbb637"/>
<circle cx="1363.4" cy="254.6" r="3.15" fill="#2eb4f2"/>
<circle cx="1336.0" cy="314.7" r="3.15" fill="#e4450a"/>
<circle cx="1322.9" cy="269.8" r="3.15" fill="#3cf58e"/>
<circle cx="1387.8" cy="285.1" r="3.15" fill="#c6f034"/>
<circle cx="1374.7" cy="240.2" r="3.15" fill="#4559cb"/>
<circle cx="1282.4" cy="284.9" r="3.15" fill="#25eca7"/>
<circle cx="1347.3" cy="300.3" r="3.15" fill="#cc2b04"/>
<circle cx="1334.2" cy="255.4" r="3.15" fill="#18d7ca"/>
<circle cx="1399.1" cy="270.7" r="3.15" fill="#69fd66"/>
<circle cx="1306.8" cy="315.4" r="3.15" fill="#ebd339"/>
<circle cx="1293.7" cy="270.5" r="3.15" fill="#25c0e7"/>
<circle cx="1358.6" cy="285.9" r="3.15" fill="#f6c33a"/>
<circle cx="1345.6" cy="241.0" r="3.15" fill="#477bf2"/>
<circle cx="1318.1" cy="301.0" r="3.15" fill="#dde037"/>
<circle cx="1305.1" cy="256.1" r="3.15" fill="#4680f6"/>
<circle cx="1369.9" cy="271.5" r="3.15" fill="#79fe59"/>
<circle cx="1329.5" cy="286.6" r="3.15" fill="#d0ea34"/>
<circle cx="1316.4" cy="241.7" r="3.15" fill="#476ee6"/>
<circle cx="1381.3" cy="257.1" r="3.15" fill="#1ad2d2"/>
<circle cx="1289.0" cy="301.8" r="3.15" fill="#96fe44"/>
<circle cx="1353.8" cy="317.1" r="3.15" fill="#7a0403"/>
<circle cx="1340.8" cy="272.2" r="3.15" fill="#a9fb39"/>
<circle cx="1392.6" cy="242.7" r="3.15" fill="#4669e0"/>
<circle cx="1300.3" cy="287.4" r="3.15" fill="#4ef97d"/>
<circle cx="1287.2" cy="242.5" r="3.15" fill="#3d358b"/>
<circle cx="1365.2" cy="302.7" r="3.15" fill="#f9751d"/>
<circle cx="1352.1" cy="257.8" r="3.15" fill="#18ddc2"/>
<circle cx="1324.7" cy="317.9" r="3.15" fill="#fe9029"/>
<circle cx="1311.6" cy="273.0" r="3.15" fill="#18ddc2"/>
<circle cx="1376.5" cy="288.4" r="3.15" fill="#dfdf37"/>
<circle cx="1363.4" cy="243.5" r="3.15" fill="#455ed3"/>
<circle cx="1336.0" cy="303.5" r="3.15" fill="#fb7e21"/>
<circle cx="1322.9" cy="258.6" r="3.15" fill="#23c3e4"/>
<circle cx="1387.8" cy="274.0" r="3.15" fill="#7dff56"/>
<circle cx="1295.5" cy="318.6" r="3.15" fill="#dbe236"/>
<circle cx="1282.4" cy="273.7" r="3.15" fill="#27bee9"/>
<circle cx="1347.3" cy="289.1" r="3.15" fill="#fa7b1f"/>
<circle cx="1334.2" cy="244.2" r="3.15" fill="#4294ff"/>
<circle cx="1399.1" cy="259.6" r="3.15" fill="#18ddc2"/>
<circle cx="1306.8" cy="304.2" r="3.15" fill="#c6f034"/>
<circle cx="1293.7" cy="259.4" r="3.15" fill="#467df4"/>
<circle cx="1358.6" cy="274.7" r="3.15" fill="#b7f735"/>
<circle cx="1318.1" cy="289.9" r="3.15" fill="#9cfe40"/>
<circle cx="1305.1" cy="245.0" r="3.15" fill="#3f3e9c"/>
<circle cx="1369.9" cy="260.3" r="3.15" fill="#18ddc2"/>
<circle cx="1342.5" cy="320.4" r="3.15" fill="#e4450a"/>
<circle cx="1329.5" cy="275.5" r="3.15" fill="#75fe5c"/>
<circle cx="1381.3" cy="245.9" r="3.15" fill="#4771e9"/>
<circle cx="1289.0" cy="290.6" r="3.15" fill="#43f787"/>
<circle cx="1353.8" cy="306.0" r="3.15" fill="#c12302"/>
<circle cx="1340.8" cy="261.1" r="3.15" fill="#2aefa1"/>
<circle cx="1313.3" cy="321.1" r="3.15" fill="#fbb838"/>
<circle cx="1300.3" cy="276.2" r="3.15" fill="#19d5cd"/>
<circle cx="1365.2" cy="291.6" r="3.15" fill="#fcb336"/>
<circle cx="1352.1" cy="246.7" r="3.15" fill="#448ffe"/>
<circle cx="1324.7" cy="306.7" r="3.15" fill="#f9bc39"/>
<circle cx="1311.6" cy="261.8" r="3.15" fill="#4294ff"/>
<circle cx="1376.5" cy="277.2" r="3.15" fill="#9ffd3f"/>
<circle cx="1336.0" cy="292.3" r="3.15" fill="#f6c33a"/>
<circle cx="1322.9" cy="247.4" r="3.15" fill="#477bf2"/>
<circle cx="1387.8" cy="262.8" r="3.15" fill="#1ae4b6"/>
<circle cx="1295.5" cy="307.5" r="3.15" fill="#b7f735"/>
<circle cx="1282.4" cy="262.6" r="3.15" fill="#477bf2"/>
<circle cx="1347.3" cy="277.9" r="3.15" fill="#e9d539"/>
<circle cx="1399.1" cy="248.4" r="3.15" fill="#4687fb"/>
<circle cx="1306.8" cy="293.1" r="3.15" fill="#84ff51"/>
<circle cx="1293.7" cy="248.2" r="3.15" fill="#3f3e9c"/>
<circle cx="1358.6" cy="263.5" r="3.15" fill="#3cf58e"/>
<circle cx="1331.2" cy="323.6" r="3.15" fill="#fe9029"/>
<circle cx="1318.1" cy="278.7" r="3.15" fill="#2ff19b"/>
<circle cx="1369.9" cy="249.1" r="3.15" fill="#477bf2"/>
<circle cx="1342.5" cy="309.2" r="3.15" fill="#f9751d"/>
<circle cx="1329.5" cy="264.3" r="3.15" fill="#18ddc2"/>
<circle cx="1302.0" cy="324.3" r="3.15" fill="#efcd3a"/>
<circle cx="1289.0" cy="279.4" r="3.15" fill="#1ad2d2"/>
<circle cx="1353.8" cy="294.8" r="3.15" fill="#f05b12"/>
<circle cx="1340.8" cy="249.9" r="3.15" fill="#33adf7"/>
<circle cx="1313.3" cy="309.9" r="3.15" fill="#e7d739"/>
<circle cx="1300.3" cy="265.0" r="3.15" fill="#448ffe"/>
<circle cx="1365.2" cy="280.4" r="3.15" fill="#d2e935"/>
<circle cx="1324.7" cy="295.5" r="3.15" fill="#d0ea34"/>
<circle cx="1311.6" cy="250.6" r="3.15" fill="#424bb5"/>
<circle cx="1376.5" cy="266.0" r="3.15" fill="#2cf09e"/>
<circle cx="1336.0" cy="281.1" r="3.15" fill="#b7f735"/>
<circle cx="1387.8" cy="251.6" r="3.15" fill="#4294ff"/>
<circle cx="1295.5" cy="296.3" r="3.15" fill="#75fe5c"/>
<circle cx="1282.4" cy="251.4" r="3.15" fill="#3f3b97"/>
<circle cx="1347.3" cy="266.7" r="3.15" fill="#80ff53"/>
<circle cx="1319.9" cy="326.8" r="3.15" fill="#fbb838"/>
<circle cx="1306.8" cy="281.9" r="3.15" fill="#22ebaa"/>
<circle cx="1358.6" cy="252.3" r="3.15" fill="#33adf7"/>
<circle cx="1331.2" cy="312.4" r="3.15" fill="#fbb637"/>
<circle cx="1318.1" cy="267.5" r="3.15" fill="#2eb4f2"/>
<circle cx="1342.5" cy="298.0" r="3.15" fill="#fcb336"/>
<circle cx="1329.5" cy="253.1" r="3.15" fill="#448ffe"/>
<circle cx="1302.0" cy="313.1" r="3.15" fill="#d9e436"/>
<circle cx="1289.0" cy="268.2" r="3.15" fill="#458cfd"/>
<circle cx="1353.8" cy="283.6" r="3.15" fill="#fcb336"/>
<circle cx="1313.3" cy="298.7" r="3.15" fill="#b7f735"/>
<circle cx="1300.3" cy="253.8" r="3.15" fill="#4249b1"/>
<circle cx="1365.2" cy="269.2" r="3.15" fill="#75fe5c"/>
<circle cx="1324.7" cy="284.3" r="3.15" fill="#79fe59"/>
<circle cx="1376.5" cy="254.8" r="3.15" fill="#37a8fa"/>
<circle cx="1336.0" cy="269.9" r="3.15" fill="#3cf58e"/>
<circle cx="1308.6" cy="330.0" r="3.15" fill="#efcd3a"/>
<circle cx="1295.5" cy="285.1" r="3.15" fill="#1de7b2"/>
<circle cx="1347.3" cy="255.5" r="3.15" fill="#1ad2d2"/>
<circle cx="1319.9" cy="315.6" r="3.15" fill="#ecd13a"/>
<circle cx="1306.8" cy="270.7" r="3.15" fill="#33adf7"/>
<circle cx="1331.2" cy="301.2" r="3.15" fill="#dfdf37"/>
<circle cx="1318.1" cy="256.3" r="3.15" fill="#455ed3"/>
<circle cx="1342.5" cy="286.8" r="3.15" fill="#d2e935"/>
<circle cx="1302.0" cy="301.9" r="3.15" fill="#a9fb39"/>
<circle cx="1289.0" cy="257.0" r="3.15" fill="#4146ac"/>
<circle cx="1353.8" cy="272.4" r="3.15" fill="#bef434"/>
<circle cx="1313.3" cy="287.5" r="3.15" fill="#5dfc6f"/>
<circle cx="1365.2" cy="258.0" r="3.15" fill="#18d7ca"/>
<circle cx="1324.7" cy="273.1" r="3.15" fill="#18ddc2"/>
<circle cx="1336.0" cy="258.8" r="3.15" fill="#33adf7"/>
<circle cx="1308.6" cy="318.8" r="3.15" fill="#dde037"/>
<circle cx="1295.5" cy="273.9" r="3.15" fill="#37a8fa"/>
<circle cx="1319.9" cy="304.4" r="3.15" fill="#c6f034"/>
<circle cx="1306.8" cy="259.5" r="3.15" fill="#4559cb"/>
<circle cx="1331.2" cy="290.0" r="3.15" fill="#9ffd3f"/>
<circle cx="1342.5" cy="275.6" r="3.15" fill="#75fe5c"/>
<circle cx="1302.0" cy="290.8" r="3.15" fill="#4ef97d"/>
<circle cx="1353.8" cy="261.2" r="3.15" fill="#3ff68a"/>
<circle cx="1313.3" cy="276.4" r="3.15" fill="#1ad2d2"/>
<circle cx="1324.7" cy="262.0" r="3.15" fill="#477bf2"/>
<circle cx="1308.6" cy="307.6" r="3.15" fill="#b4f836"/>
<circle cx="1295.5" cy="262.7" r="3.15" fill="#4456c7"/>
<circle cx="1319.9" cy="293.2" r="3.15" fill="#7dff56"/>
<circle cx="1331.2" cy="278.8" r="3.15" fill="#2cf09e"/>
<circle cx="1342.5" cy="264.4" r="3.15" fill="#18d7ca"/>
<circle cx="1302.0" cy="279.6" r="3.15" fill="#1ecbda"/>
<circle cx="1313.3" cy="265.2" r="3.15" fill="#4771e9"/>
<circle cx="1308.6" cy="296.4" r="3.15" fill="#69fd66"/>
<circle cx="1319.9" cy="282.0" r="3.15" fill="#1ae4b6"/>
<circle cx="1331.2" cy="267.6" r="3.15" fill="#37a8fa"/>
<circle cx="1302.0" cy="268.4" r="3.15" fill="#4669e0"/>
<circle cx="1308.6" cy="285.2" r="3.15" fill="#18ddc2"/>
<circle cx="1319.9" cy="270.8" r="3.15" fill="#4294ff"/>
<circle cx="1308.6" cy="274.1" r="3.15" fill="#4687fb"/>
</g>
<line x1="1112.1" y1="40.2" x2="1255.8" y2="165.0" stroke="#ff0000" stroke-width="3.5"/>
<line x1="1316.8" y1="283.1" x2="1055.5" y2="56.3" stroke="#000" stroke-width="1.9"/>
<line x1="1316.8" y1="283.1" x2="1430.0" y2="251.0" stroke="#000" stroke-width="1.9"/>
<line x1="1316.8" y1="283.1" x2="1316.8" y2="350.2" stroke="#000" stroke-width="1.9"/>
<line x1="1055.5" y1="56.3" x2="1168.7" y2="24.2" stroke="#000" stroke-width="1.9"/>
<line x1="1168.7" y1="24.2" x2="1430.0" y2="251.0" stroke="#000" stroke-width="1.9"/>
<line x1="1055.5" y1="56.3" x2="1055.5" y2="123.4" stroke="#000" stroke-width="1.9"/>
<line x1="1055.5" y1="123.4" x2="1316.8" y2="350.2" stroke="#000" stroke-width="1.9"/>
<line x1="1316.8" y1="350.2" x2="1430.0" y2="318.1" stroke="#000" stroke-width="1.9"/>
<line x1="1430.0" y1="318.1" x2="1430.0" y2="251.0" stroke="#000" stroke-width="1.9"/>
<line x1="1316.8" y1="350.2" x2="1308.8" y2="352.5" stroke="#000" stroke-width="1.2"/>
<line x1="1251.5" y1="293.5" x2="1243.4" y2="295.8" stroke="#000" stroke-width="1.2"/>
<line x1="1186.1" y1="236.8" x2="1178.1" y2="239.1" stroke="#000" stroke-width="1.2"/>
<line x1="1120.8" y1="180.1" x2="1112.7" y2="182.4" stroke="#000" stroke-width="1.2"/>
<line x1="1055.5" y1="123.4" x2="1047.4" y2="125.7" stroke="#000" stroke-width="1.2"/>
<line x1="1430.0" y1="318.1" x2="1436.4" y2="323.6" stroke="#000" stroke-width="1.2"/>
<line x1="1316.8" y1="350.2" x2="1323.2" y2="355.7" stroke="#000" stroke-width="1.2"/>
<line x1="1055.5" y1="101.0" x2="1049.1" y2="95.5" stroke="#000" stroke-width="1.2"/>
<line x1="1055.5" y1="78.7" x2="1049.1" y2="73.2" stroke="#000" stroke-width="1.2"/>
<line x1="1055.5" y1="56.3" x2="1049.1" y2="50.8" stroke="#000" stroke-width="1.2"/>
<circle cx="1255.8" cy="165.0" r="4.7" fill="#ff0000"/>
<circle cx="1316.8" cy="283.1" r="4.7" fill="#ff0000"/>
<circle cx="1430.0" cy="251.0" r="4.7" fill="#ff0000"/>
<text x="1234.7" y="324.0" font-size="26.0" text-anchor="end">5</text>
<text x="1169.3" y="267.3" font-size="26.0" text-anchor="end">10</text>
<text x="1104.0" y="210.6" font-size="26.0" text-anchor="end">15</text>
<text x="1038.7" y="153.9" font-size="26.0" text-anchor="end">20</text>
<text x="1300.2" y="381.2" font-size="26.0" text-anchor="end">0</text>
<text x="1450.4" y="352.5" font-size="26.0" text-anchor="middle">0</text>
<text x="1336.6" y="385.6" font-size="26.0" text-anchor="middle">5</text>
<text x="1034.9" y="122.4" font-size="26.0" text-anchor="middle">0</text>
<text x="1034.9" y="100.0" font-size="26.0" text-anchor="middle">1</text>
<text x="1034.9" y="77.7" font-size="26.0" text-anchor="middle">2</text>
<text x="1034.9" y="55.3" font-size="26.0" text-anchor="middle">3</text>
<text x="1075.0" y="299.3" font-size="28.5">x [m]</text>
<text x="1017.7" y="0.0" font-size="1.0"></text>
<text x="1398.6" y="409.7" font-size="28.5">y [m]</text>
<text x="1013.2" y="120.6" font-size="28.5" transform="rotate(-90.0 1013.2 120.6)">z [m]</text>
<text x="912.4" y="22.6" font-size="26.5">(II)</text>
</g>
<defs><linearGradient id="cb1" x1="0" y1="1" x2="0" y2="0">
<stop offset="0.0000" stop-color="#30123b"/>
<stop offset="0.0156" stop-color="#351e58"/>
<stop offset="0.0312" stop-color="#392a73"/>
<stop offset="0.0469" stop-color="#3d358b"/>
<stop offset="0.0625" stop-color="#4040a2"/>
<stop offset="0.0781" stop-color="#424bb5"/>
<stop offset="0.0938" stop-color="#4456c7"/>
<stop offset="0.1094" stop-color="#4661d6"/>
<stop offset="0.1250" stop-color="#466be3"/>
<stop offset="0.1406" stop-color="#4776ee"/>
<stop offset="0.1562" stop-color="#4680f6"/>
<stop offset="0.1719" stop-color="#458afc"/>
<stop offset="0.1875" stop-color="#4294ff"/>
<stop offset="0.2031" stop-color="#3d9efe"/>
<stop offset="0.2188" stop-color="#37a8fa"/>
<stop offset="0.2344" stop-color="#2fb2f4"/>
<stop offset="0.2500" stop-color="#28bceb"/>
<stop offset="0.2656" stop-color="#22c5e2"/>
<stop offset="0.2812" stop-color="#1ccdd8"/>
<stop offset="0.2969" stop-color="#19d5cd"/>
<stop offset="0.3125" stop-color="#18ddc2"/>
<stop offset="0.3281" stop-color="#19e3b9"/>
<stop offset="0.3438" stop-color="#1fe9af"/>
<stop offset="0.3594" stop-color="#27eea4"/>
<stop offset="0.3750" stop-color="#32f298"/>
<stop offset="0.3906" stop-color="#3ff68a"/>
<stop offset="0.4062" stop-color="#4ef97d"/>
<stop offset="0.4219" stop-color="#5dfc6f"/>
<stop offset="0.4375" stop-color="#6dfe62"/>
<stop offset="0.4531" stop-color="#7dff56"/>
<stop offset="0.4688" stop-color="#8bff4b"/>
<stop offset="0.4844" stop-color="#99fe42"/>
<stop offset="0.5000" stop-color="#a4fc3c"/>
<stop offset="0.5156" stop-color="#affa37"/>
<stop offset="0.5312" stop-color="#b9f635"/>
<stop offset="0.5469" stop-color="#c3f134"/>
<stop offset="0.5625" stop-color="#cdec34"/>
<stop offset="0.5781" stop-color="#d7e535"/>
<stop offset="0.5938" stop-color="#dfdf37"/>
<stop offset="0.6094" stop-color="#e7d739"/>
<stop offset="0.6250" stop-color="#eecf3a"/>
<stop offset="0.6406" stop-color="#f4c73a"/>
<stop offset="0.6562" stop-color="#f8be39"/>
<stop offset="0.6719" stop-color="#fbb637"/>
<stop offset="0.6875" stop-color="#fdac34"/>
<stop offset="0.7031" stop-color="#fea130"/>
<stop offset="0.7188" stop-color="#fe962b"/>
<stop offset="0.7344" stop-color="#fd8a26"/>
<stop offset="0.7500" stop-color="#fb7e21"/>
<stop offset="0.7656" stop-color="#f8721c"/>
<stop offset="0.7812" stop-color="#f46617"/>
<stop offset="0.7969" stop-color="#f05b12"/>
<stop offset="0.8125" stop-color="#eb500e"/>
<stop offset="0.8281" stop-color="#e5470b"/>
<stop offset="0.8438" stop-color="#df3f08"/>
<stop offset="0.8594" stop-color="#d83706"/>
<stop offset="0.8750" stop-color="#d02f05"/>
<stop offset="0.8906" stop-color="#c82803"/>
<stop offset="0.9062" stop-color="#be2102"/>
<stop offset="0.9219" stop-color="#b41b01"/>
<stop offset="0.9375" stop-color="#a91601"/>
<stop offset="0.9531" stop-color="#9e1001"/>
<stop offset="0.9688" stop-color="#920b01"/>
<stop offset="0.9844" stop-color="#850702"/>
<stop offset="1.0000" stop-color="#7a0403"/>
</linearGradient></defs>
<rect x="1569.2" y="24.4" width="26.2" height="326.0" fill="url(#cb1)" stroke="#262626" stroke-width="1"/>
<text x="1605.4" y="359.0" font-size="26.0" textLength="47.0" lengthAdjust="spacingAndGlyphs">1100</text>
<line x1="1591.9" y1="273.3" x2="1595.4" y2="273.3" stroke="#262626" stroke-width="1"/>
<text x="1605.4" y="281.9" font-size="26.0" textLength="47.0" lengthAdjust="spacingAndGlyphs">5000</text>
<line x1="1591.9" y1="174.3" x2="1595.4" y2="174.3" stroke="#262626" stroke-width="1"/>
<text x="1605.4" y="182.9" font-size="26.0" textLength="56.6" lengthAdjust="spacingAndGlyphs">10000</text>
<line x1="1591.9" y1="75.4" x2="1595.4" y2="75.4" stroke="#262626" stroke-width="1"/>
<text x="1605.4" y="84.0" font-size="26.0" textLength="56.6" lengthAdjust="spacingAndGlyphs">15000</text>
<text x="1605.4" y="33.0" font-size="26.0" textLength="56.6" lengthAdjust="spacingAndGlyphs">17580</text>
<g transform="translate(1690.6 236.4) rotate(-90)">
<text x="0" y="0" font-size="25.5" textLength="50.5" lengthAdjust="spacingAndGlyphs">WEC</text>
<text x="51.5" y="10.5" font-size="20" font-weight="bold" font-style="italic">z</text>
<text x="66.5" y="0" font-size="25.5" textLength="30.5" lengthAdjust="spacingAndGlyphs">[N]</text>
</g>
<defs><linearGradient id="cb2" x1="0" y1="1" x2="0" y2="0">
<stop offset="0.0000" stop-color="#30123b"/>
<stop offset="0.0156" stop-color="#351e58"/>
<stop offset="0.0312" stop-color="#392a73"/>
<stop offset="0.0469" stop-color="#3d358b"/>
<stop offset="0.0625" stop-color="#4040a2"/>
<stop offset="0.0781" stop-color="#424bb5"/>
<stop offset="0.0938" stop-color="#4456c7"/>
<stop offset="0.1094" stop-color="#4661d6"/>
<stop offset="0.1250" stop-color="#466be3"/>
<stop offset="0.1406" stop-color="#4776ee"/>
<stop offset="0.1562" stop-color="#4680f6"/>
<stop offset="0.1719" stop-color="#458afc"/>
<stop offset="0.1875" stop-color="#4294ff"/>
<stop offset="0.2031" stop-color="#3d9efe"/>
<stop offset="0.2188" stop-color="#37a8fa"/>
<stop offset="0.2344" stop-color="#2fb2f4"/>
<stop offset="0.2500" stop-color="#28bceb"/>
<stop offset="0.2656" stop-color="#22c5e2"/>
<stop offset="0.2812" stop-color="#1ccdd8"/>
<stop offset="0.2969" stop-color="#19d5cd"/>
<stop offset="0.3125" stop-color="#18ddc2"/>
<stop offset="0.3281" stop-color="#19e3b9"/>
<stop offset="0.3438" stop-color="#1fe9af"/>
<stop offset="0.3594" stop-color="#27eea4"/>
<stop offset="0.3750" stop-color="#32f298"/>
<stop offset="0.3906" stop-color="#3ff68a"/>
<stop offset="0.4062" stop-color="#4ef97d"/>
<stop offset="0.4219" stop-color="#5dfc6f"/>
<stop offset="0.4375" stop-color="#6dfe62"/>
<stop offset="0.4531" stop-color="#7dff56"/>
<stop offset="0.4688" stop-color="#8bff4b"/>
<stop offset="0.4844" stop-color="#99fe42"/>
<stop offset="0.5000" stop-color="#a4fc3c"/>
<stop offset="0.5156" stop-color="#affa37"/>
<stop offset="0.5312" stop-color="#b9f635"/>
<stop offset="0.5469" stop-color="#c3f134"/>
<stop offset="0.5625" stop-color="#cdec34"/>
<stop offset="0.5781" stop-color="#d7e535"/>
<stop offset="0.5938" stop-color="#dfdf37"/>
<stop offset="0.6094" stop-color="#e7d739"/>
<stop offset="0.6250" stop-color="#eecf3a"/>
<stop offset="0.6406" stop-color="#f4c73a"/>
<stop offset="0.6562" stop-color="#f8be39"/>
<stop offset="0.6719" stop-color="#fbb637"/>
<stop offset="0.6875" stop-color="#fdac34"/>
<stop offset="0.7031" stop-color="#fea130"/>
<stop offset="0.7188" stop-color="#fe962b"/>
<stop offset="0.7344" stop-color="#fd8a26"/>
<stop offset="0.7500" stop-color="#fb7e21"/>
<stop offset="0.7656" stop-color="#f8721c"/>
<stop offset="0.7812" stop-color="#f46617"/>
<stop offset="0.7969" stop-color="#f05b12"/>
<stop offset="0.8125" stop-color="#eb500e"/>
<stop offset="0.8281" stop-color="#e5470b"/>
<stop offset="0.8438" stop-color="#df3f08"/>
<stop offset="0.8594" stop-color="#d83706"/>
<stop offset="0.8750" stop-color="#d02f05"/>
<stop offset="0.8906" stop-color="#c82803"/>
<stop offset="0.9062" stop-color="#be2102"/>
<stop offset="0.9219" stop-color="#b41b01"/>
<stop offset="0.9375" stop-color="#a91601"/>
<stop offset="0.9531" stop-color="#9e1001"/>
<stop offset="0.9688" stop-color="#920b01"/>
<stop offset="0.9844" stop-color="#850702"/>
<stop offset="1.0000" stop-color="#7a0403"/>
</linearGradient></defs>
<rect x="1568.0" y="488.8" width="27.6" height="305.8" fill="url(#cb2)" stroke="#262626" stroke-width="1"/>
<text x="1605.4" y="803.2" font-size="26.0" textLength="47.0" lengthAdjust="spacingAndGlyphs">1500</text>
<line x1="1592.1" y1="748.7" x2="1595.6" y2="748.7" stroke="#262626" stroke-width="1"/>
<text x="1605.4" y="757.3" font-size="26.0" textLength="47.0" lengthAdjust="spacingAndGlyphs">3000</text>
<line x1="1592.1" y1="657.0" x2="1595.6" y2="657.0" stroke="#262626" stroke-width="1"/>
<text x="1605.4" y="665.6" font-size="26.0" textLength="47.0" lengthAdjust="spacingAndGlyphs">6000</text>
<line x1="1592.1" y1="565.2" x2="1595.6" y2="565.2" stroke="#262626" stroke-width="1"/>
<text x="1605.4" y="573.9" font-size="26.0" textLength="47.0" lengthAdjust="spacingAndGlyphs">9000</text>
<text x="1605.4" y="497.4" font-size="26.0" textLength="56.6" lengthAdjust="spacingAndGlyphs">11500</text>
<g transform="translate(1690.6 691.6) rotate(-90)">
<text x="0" y="0" font-size="25.5" textLength="50.5" lengthAdjust="spacingAndGlyphs">WEC</text>
<text x="51.5" y="10.5" font-size="20" font-weight="bold" font-style="italic">z</text>
<text x="66.5" y="0" font-size="25.5" textLength="30.5" lengthAdjust="spacingAndGlyphs">[N]</text>
</g>
<g id="p3">
<g fill="none" stroke-width="1.45" stroke-opacity="0.72" stroke-linejoin="round">
<polyline stroke="#30123b" points="1550.2,511.5 1524.7,504.8 1509.8,501.5"/>
<polyline stroke="#30123b" points="1466.3,492.0 1454.1,489.5"/>
<polyline stroke="#3d358b" points="1550.2,544.2 1524.4,535.4 1471.3,520.1 1470.3,519.9 1424.3,509.1"/>
<polyline stroke="#3d358b" points="1380.0,498.3 1353.0,489.5"/>
<polyline stroke="#4559cb" points="1550.2,578.8 1521.2,566.0 1479.1,550.7 1470.3,547.9 1429.9,535.4 1389.6,525.2 1376.7,520.1 1372.9,518.8"/>
<polyline stroke="#4559cb" points="1330.3,503.9 1308.9,497.4 1287.5,489.5"/>
<polyline stroke="#4559cb" points="902.3,489.5 824.7,493.9 744.0,496.5 663.3,498.7 582.5,498.1 542.2,497.2"/>
<polyline stroke="#4559cb" points="496.8,495.8 421.1,490.0 415.9,489.5"/>
<polyline stroke="#477bf2" points="1550.2,613.1 1547.9,611.9 1518.1,596.6 1483.6,581.3 1470.3,576.1 1444.2,566.0 1398.7,550.7 1389.6,548.1 1361.0,535.4 1332.4,525.2"/>
<polyline stroke="#477bf2" points="1290.5,508.9 1281.3,504.8 1233.6,489.5"/>
<polyline stroke="#477bf2" points="1018.3,489.5 986.1,495.2 907.2,504.8 905.4,505.0 824.7,511.1 744.0,514.7 663.3,517.1 582.5,516.0 501.8,512.6 467.5,509.8"/>
<polyline stroke="#477bf2" points="422.1,506.2 421.1,506.1 410.8,504.8 340.4,497.2 295.3,489.5"/>
<polyline stroke="#3e9bfe" points="1550.2,648.2 1541.0,642.5 1514.1,627.2 1484.9,611.9 1470.3,605.0 1451.9,596.6 1414.1,581.3 1389.6,572.4 1378.8,566.0 1348.5,550.7 1309.4,535.4 1308.9,535.2 1293.4,528.1"/>
<polyline stroke="#3e9bfe" points="1251.5,510.4 1237.3,504.8 1228.2,501.9 1186.2,489.5"/>
<polyline stroke="#3e9bfe" points="1095.1,489.5 1066.8,496.2 1018.0,504.8 986.1,510.8 916.9,520.1 905.4,521.7 824.7,528.6 744.0,532.9 663.3,535.2 582.5,533.6 501.8,529.3 421.1,521.8 417.0,521.1"/>
<polyline stroke="#3e9bfe" points="372.1,514.8 340.4,510.4 303.0,504.8 259.7,497.5 221.7,489.5"/>
<polyline stroke="#28bceb" points="1550.2,683.4 1535.2,673.1 1511.8,657.8 1484.2,642.5 1470.3,635.3 1455.1,627.2 1423.8,611.9 1389.6,597.6 1388.2,596.6 1364.5,581.3 1336.8,566.0 1308.9,553.4 1304.0,550.7 1272.3,535.4 1237.1,520.1 1228.2,516.7 1220.4,514.3"/>
<polyline stroke="#28bceb" points="1177.6,501.0 1147.5,491.9 1092.7,504.8 1066.8,510.9 1017.7,520.1 986.1,526.8 926.2,535.4 905.4,538.5 824.7,546.2 746.2,550.7 744.0,550.8 663.3,553.3 582.5,551.8 566.4,550.7 501.8,546.6 421.1,537.7 408.3,535.4 340.4,524.1 319.1,520.1 285.5,515.0"/>
<polyline stroke="#28bceb" points="240.7,507.5 225.6,504.8 179.0,495.1 154.6,489.5"/>
<polyline stroke="#19d5cd" points="1550.2,719.3 1549.7,719.0 1528.0,703.7 1505.9,688.4 1483.6,673.1 1470.3,664.8 1459.2,657.8 1430.9,642.5 1399.4,627.2 1389.6,622.8 1374.1,611.9 1351.3,596.6 1325.6,581.3 1308.9,572.7 1298.1,566.0 1270.0,550.7 1235.3,535.4 1228.2,532.4 1195.5,520.1 1180.8,515.8"/>
<polyline stroke="#19d5cd" points="1135.8,508.8 1086.0,520.1 1066.8,525.5 1020.0,535.4 986.1,543.2 937.1,550.7 905.4,555.8 824.7,564.6 805.0,566.0 744.0,570.3 663.3,572.6 582.5,570.0 532.8,566.0 501.8,563.6 421.1,553.6 406.3,550.7 340.4,538.9 324.9,535.4 259.7,523.2 246.3,520.5"/>
<polyline stroke="#19d5cd" points="201.7,512.3 179.0,508.2 163.4,504.8 98.3,490.4"/>
<polyline stroke="#20eaac" points="1550.2,757.3 1540.5,749.6 1520.0,734.3 1498.9,719.0 1476.8,703.7 1470.3,699.2 1455.7,688.4 1433.3,673.1 1407.6,657.8 1389.6,648.2 1382.1,642.5 1360.2,627.2 1338.5,611.9 1314.4,596.6 1308.9,593.4 1290.9,581.3 1265.6,566.0 1235.9,550.7 1228.2,547.4 1196.3,535.4 1181.0,530.0"/>
<polyline stroke="#20eaac" points="1136.4,521.2 1084.5,535.4 1066.8,540.8 1023.7,550.7 986.1,560.1 949.9,566.0 905.4,573.6 840.5,581.3 824.7,583.3 744.0,589.6 663.3,591.9 582.5,588.2 505.5,581.3 501.8,581.0 421.1,569.7 403.7,566.0 340.4,553.5 329.5,550.7 260.2,535.4 259.7,535.3 248.8,533.2"/>
<polyline stroke="#20eaac" points="204.3,524.4 182.5,520.1 179.0,519.5 111.1,504.8 98.3,502.0"/>
<polyline stroke="#46f884" points="1532.4,780.2 1513.4,764.9 1492.7,749.6 1470.3,734.4 1470.2,734.3 1451.3,719.0 1430.8,703.7 1408.3,688.4 1389.6,676.8 1385.5,673.1 1366.9,657.8 1346.2,642.5 1324.6,627.2 1308.9,616.2 1303.9,611.9 1283.0,596.6 1259.5,581.3 1233.1,566.0 1228.2,563.5 1198.1,550.7 1177.0,542.9"/>
<polyline stroke="#46f884" points="1132.6,536.3 1084.7,550.7 1066.8,556.7 1029.1,566.0 986.1,577.5 963.6,581.3 905.4,592.0 869.7,596.6 824.7,602.8 744.0,608.9 663.3,611.0 582.5,607.0 501.8,598.2 492.4,596.6 421.1,585.8 400.9,581.3 340.4,568.6 329.9,566.0 270.6,550.7 259.7,548.3 248.0,545.6"/>
<polyline stroke="#46f884" points="203.9,535.6 203.0,535.4 179.0,530.7 131.3,520.1 98.3,513.0"/>
<polyline stroke="#79fe59" points="1487.8,780.2 1470.3,767.0 1467.9,764.9 1448.5,749.6 1428.6,734.3 1408.0,719.0 1389.6,706.4 1386.7,703.7 1370.1,688.4 1352.0,673.1 1332.2,657.8 1310.4,642.5 1308.9,641.5 1293.3,627.2 1274.9,611.9 1252.6,596.6 1228.2,581.4 1228.1,581.3 1196.5,566.0 1168.4,554.5"/>
<polyline stroke="#79fe59" points="1122.7,554.1 1086.5,566.0 1066.8,573.2 1036.0,581.3 986.1,595.5 980.1,596.6 906.2,611.9 905.4,612.1 824.7,623.0 767.1,627.2 744.0,628.9 663.3,630.7 605.4,627.2 582.5,625.9 501.8,616.2 478.7,611.9 421.1,602.0 398.4,596.6 340.4,583.8 330.6,581.3 268.1,566.0 259.7,563.8 240.5,558.1"/>
<polyline stroke="#79fe59" points="196.7,546.5 179.0,542.5 150.0,535.4 98.3,524.0"/>
<polyline stroke="#a4fc3c" points="1446.0,780.2 1427.4,764.9 1407.5,749.6 1389.6,736.2 1387.6,734.3 1371.3,719.0 1354.8,703.7 1337.8,688.4 1318.5,673.1 1308.9,666.0 1299.7,657.8 1282.5,642.5 1265.3,627.2 1245.9,611.9 1228.2,600.4 1221.2,596.6 1192.4,581.3 1159.1,566.0 1158.1,565.6"/>
<polyline stroke="#a4fc3c" points="1114.1,572.8 1090.3,581.3 1066.8,590.7 1046.0,596.6 997.1,611.9 986.1,615.4 929.6,627.2 905.4,632.2 830.7,642.5 824.7,643.4 744.0,649.6 663.3,650.9 582.5,647.0 554.3,642.5 501.8,634.7 464.9,627.2 421.1,619.1 395.8,611.9 340.4,599.2 329.2,596.6 267.8,581.3 259.7,579.3 233.4,571.8"/>
<polyline stroke="#a4fc3c" points="189.7,559.1 179.0,556.0 162.9,550.7 99.9,535.4 98.3,535.0"/>
<polyline stroke="#c3f134" points="1406.0,780.2 1389.6,767.0 1387.5,764.9 1371.7,749.6 1355.8,734.3 1339.6,719.0 1322.9,703.7 1308.9,691.3 1305.9,688.4 1288.8,673.1 1272.0,657.8 1255.0,642.5 1237.4,627.2 1228.2,620.2 1213.7,611.9 1185.7,596.6 1156.7,581.3 1147.5,577.1 1145.5,577.8"/>
<polyline stroke="#c3f134" points="1103.5,594.3 1097.8,596.6 1066.8,610.2 1061.4,611.9 1014.0,627.2 986.1,635.9 954.3,642.5 905.4,653.1 873.6,657.8 824.7,665.6 744.0,671.6 663.3,672.3 582.5,667.2 523.3,657.8 501.8,654.4 451.6,642.5 421.1,636.4 391.9,627.2 340.4,613.5 333.2,611.9 268.3,596.6 259.7,594.5 223.8,584.5"/>
<polyline stroke="#c3f134" points="180.0,572.1 179.0,571.8 161.3,566.0 114.0,550.7 98.3,546.9"/>
<polyline stroke="#e1dd37" points="1370.3,780.2 1355.1,764.9 1340.0,749.6 1324.0,734.3 1308.9,720.0 1307.9,719.0 1292.0,703.7 1276.5,688.4 1260.6,673.1 1244.3,657.8 1228.2,643.2 1227.1,642.5 1202.2,627.2 1176.8,611.9 1150.3,596.6 1147.5,595.1 1143.9,596.6 1135.7,600.3"/>
<polyline stroke="#e1dd37" points="1094.5,619.1 1077.2,627.2 1066.8,631.9 1033.6,642.5 986.1,656.9 981.7,657.8 917.2,673.1 905.4,676.0 827.2,688.4 824.7,688.8 744.0,693.8 663.3,694.0 590.5,688.4 582.5,687.8 501.8,674.3 497.7,673.1 441.9,657.8 421.1,653.1 387.3,642.5 340.4,628.0 336.6,627.2 268.6,611.9 259.7,609.8 217.2,597.9"/>
<polyline stroke="#e1dd37" points="174.0,585.7 160.1,581.3 113.6,566.0 98.3,561.1"/>
<polyline stroke="#f6c33a" points="1337.4,780.2 1322.6,764.9 1308.9,750.4 1308.2,749.6 1292.2,734.3 1276.9,719.0 1261.9,703.7 1247.0,688.4 1232.4,673.1 1228.2,669.1 1210.7,657.8 1187.4,642.5 1163.6,627.2 1147.5,617.0 1129.5,625.9"/>
<polyline stroke="#f6c33a" points="1088.0,645.4 1066.8,654.7 1057.0,657.8 1009.6,673.1 986.1,680.7 955.0,688.4 905.4,700.6 884.7,703.7 824.7,712.2 744.0,716.2 663.3,716.4 582.5,709.1 555.0,703.7 501.8,693.9 484.3,688.4 430.7,673.1 421.1,670.5 380.2,657.8 340.4,644.6 331.4,642.5 262.0,627.2 259.7,626.7 210.5,611.9 209.5,611.6"/>
<polyline stroke="#f6c33a" points="166.1,598.8 159.2,596.6 111.7,581.3 98.3,576.9"/>
<polyline stroke="#fea431" points="1304.2,780.2 1289.0,764.9 1274.7,749.6 1260.5,734.3 1245.9,719.0 1231.8,703.7 1228.2,699.9 1211.9,688.4 1191.5,673.1 1169.0,657.8 1147.7,642.5 1147.5,642.4 1147.2,642.5 1119.2,656.9"/>
<polyline stroke="#fea431" points="1078.9,675.2 1066.8,680.8 1044.7,688.4 998.0,703.7 986.1,707.5 940.1,719.0 905.4,726.8 850.3,734.3 824.7,737.9 744.0,742.4 663.3,740.5 619.6,734.3 582.5,729.8 530.6,719.0 501.8,713.4 472.9,703.7 423.2,688.4 421.1,687.8 366.8,673.1 340.4,664.3 314.3,657.8 259.7,644.8 252.0,642.5 201.3,627.8"/>
<polyline stroke="#fea431" points="158.4,613.0 155.6,611.9 109.1,596.6 98.3,593.1"/>
<polyline stroke="#fb7e21" points="1268.5,780.2 1254.4,764.9 1241.2,749.6 1228.8,734.3 1228.2,733.7 1206.6,719.0 1186.6,703.7 1166.7,688.4 1148.4,673.1 1147.5,672.5 1146.2,673.1 1118.0,688.4 1110.7,691.8"/>
<polyline stroke="#fb7e21" points="1070.4,710.3 1066.8,712.0 1046.4,719.0 996.1,734.3 986.1,737.2 932.0,749.6 905.4,755.1 825.9,764.9 824.7,765.0 744.0,768.6 663.3,765.1 662.4,764.9 582.5,752.5 571.1,749.6 504.1,734.3 501.8,733.8 461.9,719.0 421.1,705.8 411.8,703.7 352.4,688.4 340.4,685.0 288.9,673.1 259.7,665.7 233.4,657.8 192.2,645.1"/>
<polyline stroke="#fb7e21" points="149.3,630.3 140.7,627.2 103.3,611.9 98.3,610.2"/>
<polyline stroke="#f05b12" points="615.6,780.2 582.5,774.4 546.5,764.9 501.8,753.8 491.4,749.6 450.1,734.3 421.1,724.1 395.8,719.0 340.4,705.8 329.1,703.7 259.7,689.3 256.9,688.4 232.9,680.9"/>
<polyline stroke="#f05b12" points="189.6,667.5 179.0,664.2 159.7,657.8 119.1,642.5 98.3,634.0"/>
<polyline stroke="#f05b12" points="1232.7,780.2 1228.2,774.9 1213.0,764.9 1192.0,749.6 1173.3,734.3 1156.1,719.0 1147.5,711.4 1133.3,719.0 1102.9,734.3 1066.8,749.0 1064.8,749.6 1043.6,755.5"/>
<polyline stroke="#f05b12" points="999.9,767.2 986.1,770.4 931.8,780.2"/>
<polyline stroke="#dd3d08" points="523.8,780.2 501.8,774.5 478.9,764.9 439.6,749.6 421.1,742.8 367.6,734.3 340.4,728.8 286.3,719.0 259.7,714.1 224.7,704.5"/>
<polyline stroke="#dd3d08" points="172.4,687.0 133.1,673.1 98.3,661.3"/>
<polyline stroke="#dd3d08" points="1170.1,780.2 1150.4,764.9 1147.5,762.5 1141.7,764.9 1098.7,780.2"/>
<polyline stroke="#c32503" points="464.9,780.2 428.6,764.9 421.1,762.0 340.4,751.8 324.1,749.6 259.7,739.3 238.1,734.3 215.8,728.6"/>
<polyline stroke="#c32503" points="163.0,713.3 137.2,703.7 103.9,688.4 98.3,686.4"/>
<polyline stroke="#a11201" points="392.1,780.2 340.4,774.5 259.7,767.4 243.2,764.9 202.7,756.8"/>
<polyline stroke="#a11201" points="149.2,742.6 124.4,734.3 98.3,723.3"/>
<polyline stroke="#7a0403" points="131.8,780.2 98.3,771.9"/>
</g>
<text class="a" x="262.7" y="518.8" font-size="17.6" text-anchor="middle" transform="rotate(11.5 262.7 512.5)">4000</text>
<text class="a" x="1198.5" y="516.1" font-size="17.6" text-anchor="middle" transform="rotate(21.0 1198.5 509.8)">4000</text>
<text class="a" x="223.9" y="523.3" font-size="17.6" text-anchor="middle" transform="rotate(14.5 223.9 517.0)">4500</text>
<text class="a" x="1159.2" y="516.9" font-size="17.6" text-anchor="middle" transform="rotate(19.0 1159.2 510.6)">4500</text>
<text class="a" x="226.6" y="535.9" font-size="17.6" text-anchor="middle" transform="rotate(15.0 226.6 529.6)">5000</text>
<text class="a" x="1159.0" y="530.6" font-size="17.6" text-anchor="middle" transform="rotate(13.0 1159.0 524.3)">5000</text>
<text class="a" x="225.7" y="548.5" font-size="17.6" text-anchor="middle" transform="rotate(15.0 225.7 542.2)">5500</text>
<text class="a" x="1155.3" y="542.2" font-size="17.6" text-anchor="middle" transform="rotate(6.0 1155.3 535.9)">5500</text>
<text class="a" x="218.1" y="561.2" font-size="17.6" text-anchor="middle" transform="rotate(17.0 218.1 554.9)">6000</text>
<text class="a" x="1145.2" y="553.6" font-size="17.6" text-anchor="middle" transform="rotate(-4.0 1145.2 547.3)">6000</text>
<text class="a" x="210.4" y="574.7" font-size="17.6" text-anchor="middle" transform="rotate(18.0 210.4 568.4)">6500</text>
<text class="a" x="1135.0" y="571.9" font-size="17.6" text-anchor="middle" transform="rotate(-14.0 1135.0 565.6)">6500</text>
<text class="a" x="201.4" y="586.4" font-size="17.6" text-anchor="middle" transform="rotate(20.0 201.4 580.1)">7000</text>
<text class="a" x="1124.4" y="591.6" font-size="17.6" text-anchor="middle" transform="rotate(-22.0 1124.4 585.3)">7000</text>
<text class="a" x="195.0" y="600.0" font-size="17.6" text-anchor="middle" transform="rotate(21.0 195.0 593.7)">7500</text>
<text class="a" x="1114.3" y="614.4" font-size="17.6" text-anchor="middle" transform="rotate(-25.0 1114.3 608.1)">7500</text>
<text class="a" x="187.8" y="612.6" font-size="17.6" text-anchor="middle" transform="rotate(22.0 187.8 606.3)">8000</text>
<text class="a" x="1108.2" y="640.7" font-size="17.6" text-anchor="middle" transform="rotate(-25.0 1108.2 634.4)">8000</text>
<text class="a" x="178.8" y="628.8" font-size="17.6" text-anchor="middle" transform="rotate(22.0 178.8 622.5)">8500</text>
<text class="a" x="1098.1" y="670.3" font-size="17.6" text-anchor="middle" transform="rotate(-25.0 1098.1 664.0)">8500</text>
<text class="a" x="169.9" y="646.9" font-size="17.6" text-anchor="middle" transform="rotate(20.0 169.9 640.6)">9000</text>
<text class="a" x="1089.8" y="705.6" font-size="17.6" text-anchor="middle" transform="rotate(-25.0 1089.8 699.3)">9000</text>
<text class="a" x="211.7" y="679.7" font-size="17.6" text-anchor="middle" transform="rotate(20.0 211.7 673.4)">9500</text>
<text class="a" x="1021.3" y="767.0" font-size="17.6" text-anchor="middle" transform="rotate(-18.0 1021.3 760.7)">9500</text>
<text class="a" x="199.1" y="700.8" font-size="17.6" text-anchor="middle" transform="rotate(18.5 199.1 694.5)">10000</text>
<text class="a" x="190.0" y="726.0" font-size="17.6" text-anchor="middle" transform="rotate(19.0 190.0 719.7)">10500</text>
<text class="a" x="176.4" y="754.8" font-size="17.6" text-anchor="middle" transform="rotate(18.0 176.4 748.5)">11000</text>
<text class="a" x="394.2" y="524.4" font-size="17.6" text-anchor="middle" transform="rotate(10.0 394.2 518.1)">3500</text>
<text class="a" x="1271.7" y="527.8" font-size="17.6" text-anchor="middle" transform="rotate(24.0 1271.7 521.5)">3500</text>
<text class="a" x="444.6" y="514.5" font-size="17.6" text-anchor="middle" transform="rotate(6.0 444.6 508.2)">3000</text>
<text class="a" x="1310.3" y="525.3" font-size="17.6" text-anchor="middle" transform="rotate(20.0 1310.3 519.0)">3000</text>
<text class="a" x="519.6" y="503.3" font-size="17.6" text-anchor="middle" transform="rotate(2.0 519.6 497.0)">2500</text>
<text class="a" x="1350.7" y="519.5" font-size="17.6" text-anchor="middle" transform="rotate(17.0 1350.7 513.2)">2500</text>
<text class="a" x="1401.6" y="512.3" font-size="17.6" text-anchor="middle" transform="rotate(12.0 1401.6 506.0)">2000</text>
<text class="a" x="1488.1" y="503.6" font-size="17.6" text-anchor="middle" transform="rotate(8.0 1488.1 497.3)">1500</text>
<path d="M91.3,487.4 V795.7 H1554" fill="none" stroke="#262626" stroke-width="1.4"/>
<line x1="98.3" y1="795.7" x2="98.3" y2="781.2" stroke="#262626" stroke-width="1.3"/>
<text x="98.3" y="827.5" font-size="26.0" text-anchor="middle">0</text>
<line x1="251.5" y1="795.7" x2="251.5" y2="781.2" stroke="#262626" stroke-width="1.3"/>
<text x="251.5" y="827.5" font-size="26.0" text-anchor="middle">1</text>
<line x1="404.7" y1="795.7" x2="404.7" y2="781.2" stroke="#262626" stroke-width="1.3"/>
<text x="404.7" y="827.5" font-size="26.0" text-anchor="middle">2</text>
<line x1="557.9" y1="795.7" x2="557.9" y2="781.2" stroke="#262626" stroke-width="1.3"/>
<text x="557.9" y="827.5" font-size="26.0" text-anchor="middle">3</text>
<line x1="711.1" y1="795.7" x2="711.1" y2="781.2" stroke="#262626" stroke-width="1.3"/>
<text x="711.1" y="827.5" font-size="26.0" text-anchor="middle">4</text>
<line x1="864.3" y1="795.7" x2="864.3" y2="781.2" stroke="#262626" stroke-width="1.3"/>
<text x="864.3" y="827.5" font-size="26.0" text-anchor="middle">5</text>
<line x1="1017.5" y1="795.7" x2="1017.5" y2="781.2" stroke="#262626" stroke-width="1.3"/>
<text x="1017.5" y="827.5" font-size="26.0" text-anchor="middle">6</text>
<line x1="1170.7" y1="795.7" x2="1170.7" y2="781.2" stroke="#262626" stroke-width="1.3"/>
<text x="1170.7" y="827.5" font-size="26.0" text-anchor="middle">7</text>
<line x1="1323.9" y1="795.7" x2="1323.9" y2="781.2" stroke="#262626" stroke-width="1.3"/>
<text x="1323.9" y="827.5" font-size="26.0" text-anchor="middle">8</text>
<line x1="1477.1" y1="795.7" x2="1477.1" y2="781.2" stroke="#262626" stroke-width="1.3"/>
<text x="1477.1" y="827.5" font-size="26.0" text-anchor="middle">9</text>
<line x1="91.3" y1="795.7" x2="105.8" y2="795.7" stroke="#262626" stroke-width="1.3"/>
<text x="81.6" y="805.0" font-size="26.0" text-anchor="end">0</text>
<line x1="91.3" y1="719.2" x2="105.8" y2="719.2" stroke="#262626" stroke-width="1.3"/>
<text x="81.6" y="728.2" font-size="26.0" text-anchor="end">0.5</text>
<line x1="91.3" y1="642.7" x2="105.8" y2="642.7" stroke="#262626" stroke-width="1.3"/>
<text x="81.6" y="651.4" font-size="26.0" text-anchor="end">1</text>
<line x1="91.3" y1="566.2" x2="105.8" y2="566.2" stroke="#262626" stroke-width="1.3"/>
<text x="81.6" y="574.6" font-size="26.0" text-anchor="end">1.5</text>
<line x1="91.3" y1="488.1" x2="105.8" y2="488.1" stroke="#262626" stroke-width="1.3"/>
<text x="81.6" y="497.8" font-size="26.0" text-anchor="end">2</text>
<path d="M98.2,795.6 V642.4 H1529.7 V795.6" fill="none" stroke="#0072bd" stroke-width="2.5" stroke-linejoin="miter"/>
<line x1="98.2" y1="718.9" x2="1529.7" y2="718.9" stroke="#00ff00" stroke-width="2.7"/>
<circle cx="98.2" cy="795.6" r="5" fill="#000"/>
<circle cx="98.2" cy="718.9" r="5" fill="#000"/>
<circle cx="98.2" cy="642.4" r="5" fill="#000"/>
<circle cx="1529.7" cy="642.4" r="5" fill="#000"/>
<circle cx="1529.7" cy="718.9" r="5" fill="#000"/>
<circle cx="1529.7" cy="795.6" r="5" fill="#000"/>
<text x="106.2" y="629.0" font-size="26.5">(b)</text>
<text x="103.6" y="710.2" font-size="26.5">(b)</text>
<text x="100.4" y="790.0" font-size="26.5">(a)</text>
<text x="1493.2" y="626.3" font-size="26.5">(e)</text>
<text x="1489.7" y="704.6" font-size="26.5">(e)</text>
<text x="1493.0" y="785.0" font-size="26.5">(f)</text>
<text x="139.8" y="697.6" font-size="20.0" text-anchor="middle" fill="#222">*</text>
<text x="1523.3" y="694.8" font-size="20.0" text-anchor="middle" fill="#222">*</text>
<text x="130.0" y="465.2" font-size="26.5">(III)</text>
<text x="766.8" y="862.8" font-size="28.5">x</text>
<text x="782.4" y="876.9" font-size="22.8" textLength="41.5" lengthAdjust="spacingAndGlyphs">path</text>
<text x="834.6" y="862.8" font-size="29.6" textLength="43.5" lengthAdjust="spacingAndGlyphs">[m]</text>
<g transform="translate(24.7 697.0) rotate(-90)">
<text x="0.0" y="0.0" font-size="28.5">z</text>
<text x="14.2" y="14.1" font-size="22.8" textLength="41.5" lengthAdjust="spacingAndGlyphs">path</text>
<text x="65.8" y="0.0" font-size="29.6" textLength="43.5" lengthAdjust="spacingAndGlyphs">[m]</text>
</g>
</g>
</svg>
</body></html>
